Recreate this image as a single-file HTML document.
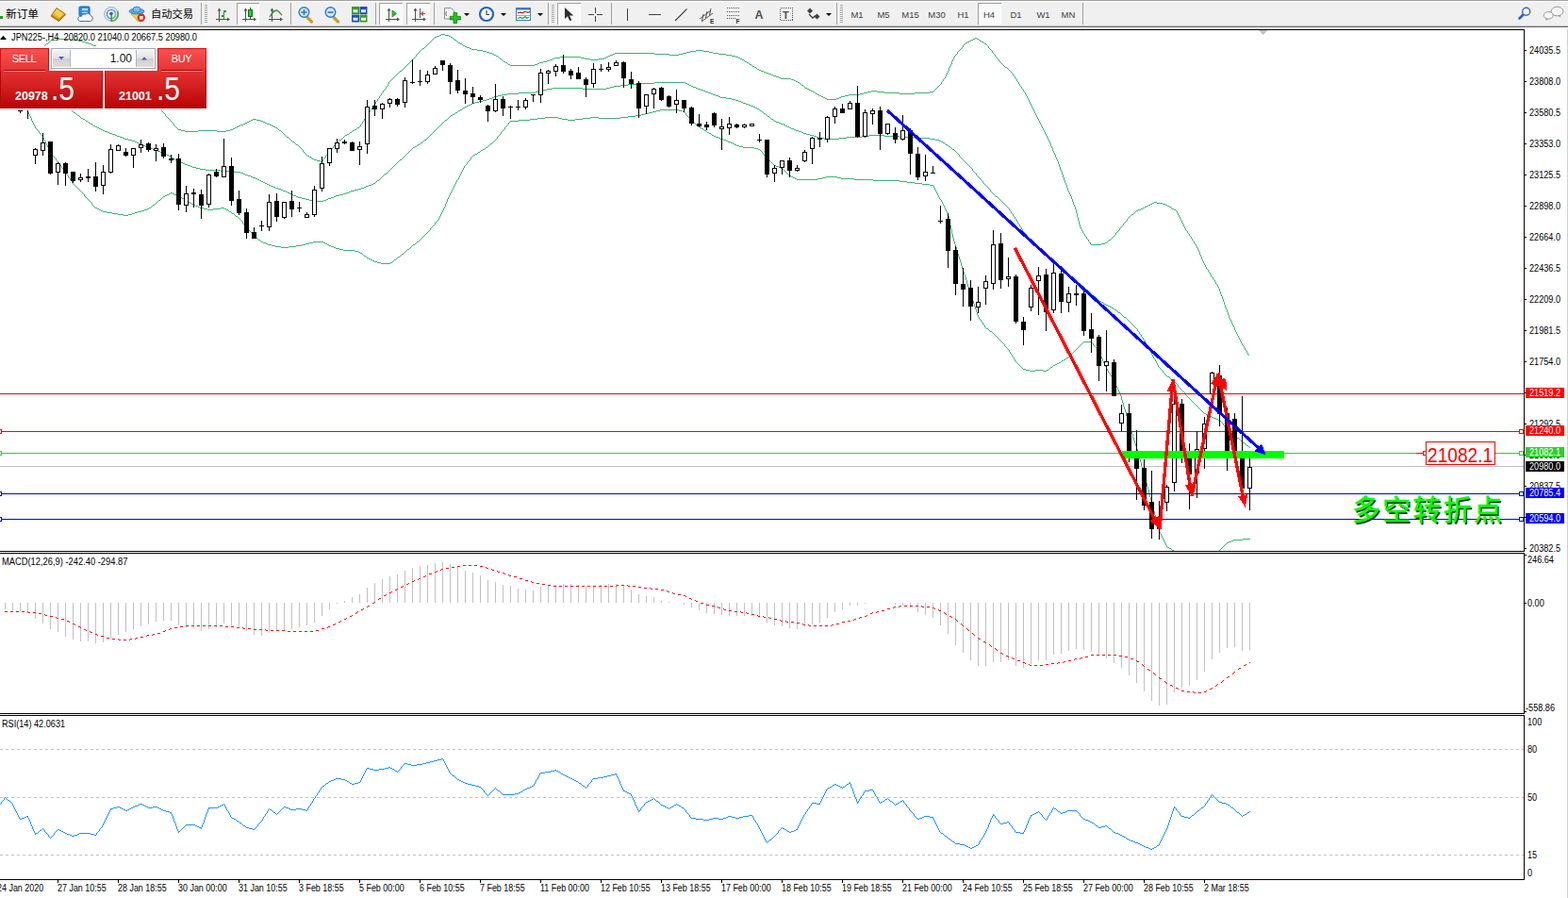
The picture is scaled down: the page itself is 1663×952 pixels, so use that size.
<!DOCTYPE html>
<html><head><meta charset="utf-8"><title>JPN225 H4</title>
<style>
html,body{margin:0;padding:0;background:#fff;}
body{width:1663px;height:952px;overflow:hidden;position:relative;font-family:"Liberation Sans",sans-serif;color:#000;}
.t{position:absolute;font-size:10px;line-height:10px;white-space:nowrap;color:#000;transform-origin:0 50%;}
.ax{transform:scaleX(.914);}
.tm{transform:scaleX(.893);}
.ti{transform:scaleX(.925);}
.mc{transform:scaleX(.934);}
.pl{position:absolute;left:1618px;width:41px;height:11px;color:#fff;font-size:10px;line-height:11px;white-space:nowrap;box-sizing:border-box;padding-left:4px;}
.pl span{display:inline-block;transform-origin:0 50%;transform:scaleX(.914);}
.biglab{position:absolute;left:1514px;top:470.5px;width:80px;height:23px;color:#ff0000;font-size:22.3px;line-height:23px;white-space:nowrap;transform-origin:0 0;transform:scaleX(0.857);}
.tp{position:absolute;}
.red{background:linear-gradient(#e23232 0%,#d62323 35%,#b80404 100%);}

</style></head>
<body>
<svg width="1663" height="952" viewBox="0 0 1663 952" style="position:absolute;left:0;top:0"><defs><clipPath id="cm"><rect x="0" y="32" width="1616" height="552"/></clipPath><clipPath id="c2"><rect x="0" y="587" width="1616" height="169"/></clipPath><clipPath id="c3"><rect x="0" y="759" width="1616" height="173"/></clipPath></defs>
<g clip-path="url(#cm)" shape-rendering="crispEdges">
<path d="M175 121h1v2h-1zM1315 360h1v2h-1zM1106 136h1v2h-1zM1251 230h1v2h-1zM1297 317h1v3h-1zM384 129h1v2h-1zM1298 320h1v3h-1zM1272 267h1v3h-1zM1301 328h1v3h-1zM1279 283h1v2h-1zM390 120h1v2h-1zM1308 345h1v2h-1zM1012 59h1v2h-1zM1076 81h1v2h-1zM43 53h1v2h-1zM1261 248h1v2h-1zM1119 164h1v3h-1zM1264 253h1v2h-1zM411 89h1v2h-1zM152 94h1v2h-1zM1104 132h1v2h-1zM1150 248h1v2h-1zM406 96h1v2h-1zM1289 299h1v2h-1zM1154 254h1v2h-1zM1253 234h1v2h-1zM1293 306h1v3h-1zM1115 155h1v2h-1zM1089 102h1v2h-1zM1296 314h1v3h-1zM1007 70h1v2h-1zM1090 104h1v2h-1zM409 92h1v2h-1zM1309 347h1v3h-1zM1281 286h1v2h-1zM1146 241h1v2h-1zM1187 242h1v2h-1zM1052 54h1v2h-1zM1132 199h1v3h-1zM184 131h1v2h-1zM1078 84h1v2h-1zM1317 364h1v2h-1zM1006 72h1v3h-1zM1191 237h1v2h-1zM1152 251h1v2h-1zM1291 302h1v2h-1zM1156 257h1v2h-1zM1088 100h1v2h-1zM1120 167h1v2h-1zM1004 77h1v2h-1zM1127 185h1v3h-1zM1145 238h1v3h-1zM1130 194h1v2h-1zM1000 84h1v2h-1zM1131 196h1v3h-1zM1319 367h1v2h-1zM1137 211h1v3h-1zM1304 337h1v2h-1zM1011 61h1v2h-1zM348 161h1v2h-1zM1112 148h1v2h-1zM1122 171h1v3h-1zM1143 230h1v4h-1zM1125 180h1v2h-1zM1097 118h1v2h-1zM1126 182h1v3h-1zM1274 272h1v3h-1zM1303 334h1v3h-1zM394 114h1v2h-1zM1310 350h1v2h-1zM404 99h1v2h-1zM1114 152h1v3h-1zM1074 78h1v2h-1zM1263 251h1v2h-1zM1142 226h1v4h-1zM1095 114h1v2h-1zM1002 81h1v2h-1zM388 123h1v2h-1zM998 87h1v2h-1zM1255 238h1v2h-1zM41 56h1v2h-1zM1091 106h1v2h-1zM1021 48h1v2h-1zM353 155h1v2h-1zM157 100h1v2h-1zM1148 245h1v2h-1zM1283 289h1v2h-1zM1055 58h1v2h-1zM1080 87h1v2h-1zM36 64h1v2h-1zM1105 134h1v2h-1zM1108 140h1v2h-1zM32 71h1v2h-1zM1147 243h1v2h-1zM441 58h1v2h-1zM1015 55h1v2h-1zM1107 138h1v2h-1zM1292 304h1v2h-1zM1121 169h1v2h-1zM1099 122h1v2h-1zM1248 224h1v2h-1zM1059 63h1v2h-1zM45 50h1v2h-1zM1320 369h1v2h-1zM1323 374h1v2h-1zM142 82h1v2h-1zM1273 270h1v2h-1zM1305 339h1v2h-1zM35 66h1v2h-1zM1101 126h1v2h-1zM163 107h1v2h-1zM31 73h1v2h-1zM1257 242h1v2h-1zM1322 372h1v2h-1zM1254 236h1v2h-1zM398 108h1v2h-1zM1003 79h1v2h-1zM1311 352h1v2h-1zM1314 358h1v2h-1zM1136 208h1v3h-1zM1139 217h1v2h-1zM1110 144h1v2h-1zM1010 63h1v2h-1zM1295 312h1v2h-1zM1256 240h1v2h-1zM1259 245h1v2h-1zM1117 160h1v2h-1zM342 169h1v2h-1zM1299 323h1v3h-1zM1092 108h1v2h-1zM1124 177h1v3h-1zM1128 188h1v3h-1zM1312 354h1v2h-1zM1284 291h1v2h-1zM1134 204h1v2h-1zM345 165h1v2h-1zM1009 65h1v3h-1zM1081 89h1v2h-1zM1138 214h1v3h-1zM1269 261h1v2h-1zM1266 256h1v2h-1zM1276 277h1v2h-1zM1109 142h1v2h-1zM1294 309h1v3h-1zM1116 157h1v3h-1zM1094 112h1v2h-1zM1123 174h1v3h-1zM1144 234h1v4h-1zM1286 294h1v2h-1zM1250 228h1v2h-1zM402 102h1v2h-1zM1083 92h1v2h-1zM1268 259h1v2h-1zM1300 326h1v2h-1zM1278 281h1v2h-1zM1275 275h1v2h-1zM1307 343h1v2h-1zM1103 130h1v2h-1zM1100 124h1v2h-1zM1288 297h1v2h-1zM1249 226h1v2h-1zM1085 95h1v2h-1zM412 87h1v2h-1zM1306 341h1v2h-1zM1316 362h1v2h-1zM1183 247h1v2h-1zM1141 222h1v4h-1zM1102 128h1v2h-1zM392 117h1v2h-1zM1008 68h1v2h-1zM1129 191h1v3h-1zM1133 202h1v2h-1zM1140 219h1v3h-1zM382 132h1v2h-1zM1271 265h1v2h-1zM1111 146h1v2h-1zM1118 162h1v2h-1zM38 61h1v2h-1zM1093 110h1v2h-1zM1096 116h1v2h-1zM34 68h1v2h-1zM147 88h1v2h-1zM1313 356h1v2h-1zM1135 206h1v2h-1zM1252 232h1v2h-1zM1270 263h1v2h-1zM1195 232h1v2h-1zM1302 331h1v3h-1zM1277 279h1v2h-1zM168 113h1v2h-1zM400 105h1v2h-1zM396 111h1v2h-1zM1005 75h1v2h-1zM1087 98h1v2h-1zM386 126h1v2h-1zM39 59h1v2h-1zM321 159h1v2h-1zM1048 49h1v2h-1zM1113 150h1v2h-1zM1098 120h1v2h-1zM158 102h1v1h-1zM871 102h2v1h-2zM892 102h4v1h-4zM1205 223h2v1h-2zM1247 223h1v1h-1zM115 57h2v1h-2zM442 57h1v1h-1zM522 57h2v1h-2zM650 57h2v1h-2zM694 57h16v1h-16zM720 57h4v1h-4zM762 57h8v1h-8zM1014 57h1v1h-1zM1054 57h1v1h-1zM37 63h1v1h-1zM123 63h1v1h-1zM437 63h1v1h-1zM532 63h1v1h-1zM583 63h3v1h-3zM626 63h9v1h-9zM787 63h2v1h-2zM129 69h1v1h-1zM431 69h1v1h-1zM541 69h26v1h-26zM797 69h1v1h-1zM1064 69h1v1h-1zM1224 214h3v1h-3zM61 41h13v1h-13zM459 41h1v1h-1zM481 41h1v1h-1zM1032 41h2v1h-2zM1036 41h2v1h-2zM120 60h1v1h-1zM440 60h1v1h-1zM528 60h1v1h-1zM594 60h22v1h-22zM643 60h2v1h-2zM780 60h3v1h-3zM1056 60h1v1h-1zM122 62h1v1h-1zM438 62h1v1h-1zM530 62h2v1h-2zM586 62h2v1h-2zM620 62h6v1h-6zM635 62h6v1h-6zM785 62h2v1h-2zM1058 62h1v1h-1zM33 70h1v1h-1zM130 70h1v1h-1zM430 70h1v1h-1zM798 70h2v1h-2zM1065 70h1v1h-1zM54 42h7v1h-7zM74 42h9v1h-9zM458 42h1v1h-1zM482 42h2v1h-2zM1030 42h2v1h-2zM1038 42h1v1h-1zM156 99h1v1h-1zM865 99h2v1h-2zM912 99h4v1h-4zM954 99h16v1h-16zM155 98h1v1h-1zM405 98h1v1h-1zM864 98h1v1h-1zM916 98h4v1h-4zM938 98h16v1h-16zM970 98h16v1h-16zM118 59h2v1h-2zM526 59h2v1h-2zM645 59h2v1h-2zM776 59h4v1h-4zM151 93h1v1h-1zM854 93h2v1h-2zM993 93h1v1h-1zM867 100h2v1h-2zM900 100h12v1h-12zM187 135h1v1h-1zM249 135h2v1h-2zM292 135h2v1h-2zM379 135h2v1h-2zM325 164h1v1h-1zM346 164h1v1h-1zM106 51h1v1h-1zM448 51h2v1h-2zM498 51h2v1h-2zM1019 51h1v1h-1zM1049 51h1v1h-1zM185 133h1v1h-1zM253 133h2v1h-2zM288 133h2v1h-2zM44 52h1v1h-1zM107 52h2v1h-2zM447 52h1v1h-1zM500 52h6v1h-6zM1018 52h1v1h-1zM1050 52h1v1h-1zM196 139h14v1h-14zM230 139h10v1h-10zM298 139h1v1h-1zM373 139h1v1h-1zM47 48h1v1h-1zM99 48h3v1h-3zM452 48h1v1h-1zM491 48h2v1h-2zM1047 48h1v1h-1zM114 56h1v1h-1zM443 56h1v1h-1zM519 56h3v1h-3zM652 56h42v1h-42zM724 56h4v1h-4zM756 56h6v1h-6zM1053 56h1v1h-1zM51 45h1v1h-1zM91 45h3v1h-3zM455 45h1v1h-1zM486 45h2v1h-2zM1024 45h2v1h-2zM1043 45h1v1h-1zM416 83h1v1h-1zM828 83h11v1h-11zM1001 83h1v1h-1zM1077 83h1v1h-1zM52 44h1v1h-1zM87 44h4v1h-4zM456 44h1v1h-1zM485 44h1v1h-1zM1026 44h2v1h-2zM1041 44h2v1h-2zM140 80h1v1h-1zM419 80h1v1h-1zM820 80h3v1h-3zM1075 80h1v1h-1zM180 127h1v1h-1zM266 127h2v1h-2zM272 127h4v1h-4zM40 58h1v1h-1zM117 58h1v1h-1zM524 58h2v1h-2zM647 58h3v1h-3zM710 58h10v1h-10zM770 58h6v1h-6zM1013 58h1v1h-1zM1222 215h2v1h-2zM1227 215h6v1h-6zM145 86h1v1h-1zM413 86h1v1h-1zM844 86h2v1h-2zM999 86h1v1h-1zM1079 86h1v1h-1zM121 61h1v1h-1zM439 61h1v1h-1zM529 61h1v1h-1zM588 61h6v1h-6zM616 61h4v1h-4zM641 61h2v1h-2zM783 61h2v1h-2zM1057 61h1v1h-1zM42 55h1v1h-1zM112 55h2v1h-2zM444 55h1v1h-1zM516 55h3v1h-3zM728 55h4v1h-4zM752 55h4v1h-4zM159 103h1v1h-1zM873 103h2v1h-2zM890 103h2v1h-2zM330 167h1v1h-1zM344 167h1v1h-1zM192 138h4v1h-4zM210 138h20v1h-20zM240 138h4v1h-4zM296 138h2v1h-2zM374 138h2v1h-2zM1168 258h4v1h-4zM1267 258h1v1h-1zM1157 259h11v1h-11zM154 97h1v1h-1zM862 97h2v1h-2zM920 97h4v1h-4zM930 97h8v1h-8zM986 97h4v1h-4zM1086 97h1v1h-1zM463 38h3v1h-3zM476 38h2v1h-2zM179 126h1v1h-1zM268 126h4v1h-4zM177 124h1v1h-1zM128 68h1v1h-1zM432 68h1v1h-1zM539 68h2v1h-2zM567 68h3v1h-3zM795 68h2v1h-2zM1063 68h1v1h-1zM137 77h1v1h-1zM422 77h1v1h-1zM812 77h3v1h-3zM1073 77h1v1h-1zM307 147h1v1h-1zM362 147h1v1h-1zM126 66h1v1h-1zM434 66h1v1h-1zM536 66h2v1h-2zM572 66h4v1h-4zM792 66h2v1h-2zM1061 66h1v1h-1zM1214 219h2v1h-2zM1240 219h2v1h-2zM1192 236h1v1h-1zM46 49h1v1h-1zM102 49h2v1h-2zM451 49h1v1h-1zM493 49h2v1h-2zM466 37h2v1h-2zM472 37h4v1h-4zM49 46h2v1h-2zM94 46h3v1h-3zM454 46h1v1h-1zM488 46h2v1h-2zM1023 46h1v1h-1zM1044 46h2v1h-2zM169 115h1v1h-1zM300 141h1v1h-1zM370 141h1v1h-1zM125 65h1v1h-1zM435 65h1v1h-1zM534 65h2v1h-2zM576 65h4v1h-4zM790 65h2v1h-2zM1060 65h1v1h-1zM110 54h2v1h-2zM445 54h1v1h-1zM512 54h4v1h-4zM732 54h6v1h-6zM746 54h6v1h-6zM1016 54h1v1h-1zM255 132h3v1h-3zM286 132h2v1h-2zM150 92h1v1h-1zM853 92h1v1h-1zM994 92h1v1h-1zM417 82h1v1h-1zM826 82h2v1h-2zM132 72h1v1h-1zM428 72h1v1h-1zM802 72h1v1h-1zM1068 72h1v1h-1zM139 79h1v1h-1zM420 79h1v1h-1zM818 79h2v1h-2zM389 122h1v1h-1zM161 105h1v1h-1zM877 105h10v1h-10zM134 74h1v1h-1zM426 74h1v1h-1zM805 74h2v1h-2zM1070 74h1v1h-1zM188 136h1v1h-1zM247 136h2v1h-2zM294 136h1v1h-1zM378 136h1v1h-1zM189 137h3v1h-3zM244 137h3v1h-3zM295 137h1v1h-1zM376 137h2v1h-2zM48 47h1v1h-1zM97 47h2v1h-2zM453 47h1v1h-1zM490 47h1v1h-1zM1022 47h1v1h-1zM1046 47h1v1h-1zM109 53h1v1h-1zM446 53h1v1h-1zM506 53h6v1h-6zM738 53h8v1h-8zM1017 53h1v1h-1zM1051 53h1v1h-1zM153 96h1v1h-1zM860 96h2v1h-2zM924 96h6v1h-6zM990 96h1v1h-1zM349 160h1v1h-1zM408 94h1v1h-1zM856 94h2v1h-2zM992 94h1v1h-1zM1084 94h1v1h-1zM407 95h1v1h-1zM858 95h2v1h-2zM991 95h1v1h-1zM460 40h1v1h-1zM480 40h1v1h-1zM1034 40h2v1h-2zM124 64h1v1h-1zM436 64h1v1h-1zM533 64h1v1h-1zM580 64h3v1h-3zM789 64h1v1h-1zM181 128h1v1h-1zM264 128h2v1h-2zM276 128h3v1h-3zM385 128h1v1h-1zM461 39h2v1h-2zM478 39h2v1h-2zM127 67h1v1h-1zM433 67h1v1h-1zM538 67h1v1h-1zM570 67h2v1h-2zM794 67h1v1h-1zM1062 67h1v1h-1zM144 85h1v1h-1zM414 85h1v1h-1zM842 85h2v1h-2zM309 149h1v1h-1zM359 149h1v1h-1zM1172 257h2v1h-2zM328 166h2v1h-2zM104 50h2v1h-2zM450 50h1v1h-1zM495 50h3v1h-3zM1020 50h1v1h-1zM149 91h1v1h-1zM410 91h1v1h-1zM852 91h1v1h-1zM995 91h1v1h-1zM1082 91h1v1h-1zM141 81h1v1h-1zM418 81h1v1h-1zM823 81h3v1h-3zM138 78h1v1h-1zM421 78h1v1h-1zM815 78h3v1h-3zM1185 245h1v1h-1zM1180 251h1v1h-1zM1196 231h1v1h-1zM304 145h2v1h-2zM364 145h1v1h-1zM403 101h1v1h-1zM869 101h2v1h-2zM896 101h4v1h-4zM468 36h4v1h-4zM1207 222h3v1h-3zM1245 222h2v1h-2zM1203 225h1v1h-1zM301 142h1v1h-1zM368 142h2v1h-2zM165 110h1v1h-1zM397 110h1v1h-1zM312 151h1v1h-1zM357 151h1v1h-1zM313 152h1v1h-1zM356 152h1v1h-1zM183 130h1v1h-1zM260 130h2v1h-2zM281 130h2v1h-2zM1280 285h1v1h-1zM182 129h1v1h-1zM262 129h2v1h-2zM279 129h2v1h-2zM1175 255h1v1h-1zM1265 255h1v1h-1zM146 87h1v1h-1zM846 87h2v1h-2zM143 84h1v1h-1zM415 84h1v1h-1zM839 84h3v1h-3zM308 148h1v1h-1zM360 148h2v1h-2zM186 134h1v1h-1zM251 134h2v1h-2zM290 134h2v1h-2zM381 134h1v1h-1zM848 88h1v1h-1zM1216 218h2v1h-2zM1238 218h2v1h-2zM258 131h2v1h-2zM283 131h3v1h-3zM383 131h1v1h-1zM303 144h1v1h-1zM365 144h1v1h-1zM314 153h2v1h-2zM355 153h1v1h-1zM1212 220h2v1h-2zM1242 220h1v1h-1zM174 120h1v1h-1zM1210 221h2v1h-2zM1243 221h2v1h-2zM399 107h1v1h-1zM133 73h1v1h-1zM427 73h1v1h-1zM803 73h2v1h-2zM1069 73h1v1h-1zM131 71h1v1h-1zM429 71h1v1h-1zM800 71h2v1h-2zM1066 71h2v1h-2zM53 43h1v1h-1zM83 43h4v1h-4zM457 43h1v1h-1zM484 43h1v1h-1zM1028 43h2v1h-2zM1039 43h2v1h-2zM1282 288h1v1h-1zM1184 246h1v1h-1zM1204 224h1v1h-1zM160 104h1v1h-1zM401 104h1v1h-1zM875 104h2v1h-2zM887 104h3v1h-3zM1179 252h1v1h-1zM1218 217h2v1h-2zM1236 217h2v1h-2zM148 90h1v1h-1zM850 90h2v1h-2zM996 90h1v1h-1zM170 116h1v1h-1zM393 116h1v1h-1zM176 123h1v1h-1zM336 170h4v1h-4zM30 75h1v1h-1zM135 75h1v1h-1zM424 75h2v1h-2zM807 75h3v1h-3zM1071 75h1v1h-1zM136 76h1v1h-1zM423 76h1v1h-1zM810 76h2v1h-2zM1072 76h1v1h-1zM849 89h1v1h-1zM997 89h1v1h-1zM178 125h1v1h-1zM387 125h1v1h-1zM1197 230h1v1h-1zM1153 253h1v1h-1zM1178 253h1v1h-1zM299 140h1v1h-1zM371 140h2v1h-2zM1318 366h1v1h-1zM1321 371h1v1h-1zM306 146h1v1h-1zM363 146h1v1h-1zM1188 241h1v1h-1zM316 154h1v1h-1zM354 154h1v1h-1zM302 143h1v1h-1zM366 143h2v1h-2zM340 171h2v1h-2zM326 165h2v1h-2zM1190 239h1v1h-1zM1202 226h1v1h-1zM1220 216h2v1h-2zM1233 216h3v1h-3zM1176 254h2v1h-2zM317 155h1v1h-1zM318 156h1v1h-1zM1200 227h2v1h-2zM324 163h1v1h-1zM347 163h1v1h-1zM319 157h1v1h-1zM352 157h1v1h-1zM320 158h1v1h-1zM351 158h1v1h-1zM1149 247h1v1h-1zM1260 247h1v1h-1zM1155 256h1v1h-1zM1174 256h1v1h-1zM1194 234h1v1h-1zM310 150h2v1h-2zM358 150h1v1h-1zM322 161h1v1h-1zM1189 240h1v1h-1zM164 109h1v1h-1zM173 119h1v1h-1zM391 119h1v1h-1zM162 106h1v1h-1zM1324 376h1v1h-1zM333 169h3v1h-3zM1182 249h1v1h-1zM1198 229h1v1h-1zM1193 235h1v1h-1zM1287 296h1v1h-1zM166 111h1v1h-1zM167 112h1v1h-1zM331 168h2v1h-2zM343 168h1v1h-1zM350 159h1v1h-1zM1285 293h1v1h-1zM323 162h1v1h-1zM1151 250h1v1h-1zM1181 250h1v1h-1zM1262 250h1v1h-1zM1186 244h1v1h-1zM1258 244h1v1h-1zM1290 301h1v1h-1zM395 113h1v1h-1zM171 117h1v1h-1zM172 118h1v1h-1zM1199 228h1v1h-1z" fill="#3cb371"/>
<path d="M1297 449h1v2h-1zM1072 224h1v2h-1zM1083 241h1v2h-1zM1222 376h1v2h-1zM1223 378h1v2h-1zM1226 383h1v2h-1zM1215 363h1v2h-1zM1081 238h1v2h-1zM1084 243h1v2h-1zM1221 374h1v2h-1zM1017 164h1v2h-1zM1042 192h1v2h-1zM1070 221h1v2h-1zM1089 249h1v2h-1zM1225 381h1v2h-1zM1217 367h1v2h-1zM1257 417h1v2h-1zM1227 385h1v2h-1zM1249 408h1v2h-1zM1050 201h1v2h-1zM1074 227h1v2h-1zM1206 349h1v2h-1zM1228 387h1v2h-1zM1076 230h1v2h-1zM1079 235h1v2h-1zM1216 365h1v2h-1zM1220 372h1v2h-1zM1208 352h1v2h-1zM1031 179h1v2h-1zM1233 393h1v2h-1zM1078 233h1v2h-1zM1218 369h1v2h-1zM1210 355h1v2h-1zM1035 184h1v2h-1zM1212 358h1v2h-1zM1214 361h1v2h-1zM154 155h2v1h-2zM440 155h2v1h-2zM1006 155h2v1h-2zM332 213h11v1h-11zM1062 213h1v1h-1zM263 186h3v1h-3zM406 186h1v1h-1zM1036 186h1v1h-1zM136 148h4v1h-4zM450 148h2v1h-2zM992 148h4v1h-4zM114 140h2v1h-2zM459 140h1v1h-1zM850 140h2v1h-2zM1298 451h1v1h-1zM46 90h1v1h-1zM658 90h8v1h-8zM731 90h2v1h-2zM124 144h3v1h-3zM455 144h1v1h-1zM863 144h3v1h-3zM914 144h8v1h-8zM938 144h16v1h-16zM49 93h1v1h-1zM586 93h32v1h-32zM643 93h4v1h-4zM738 93h2v1h-2zM56 99h1v1h-1zM538 99h12v1h-12zM754 99h2v1h-2zM91 128h2v1h-2zM471 128h1v1h-1zM821 128h2v1h-2zM55 98h1v1h-1zM550 98h18v1h-18zM751 98h3v1h-3zM53 97h2v1h-2zM568 97h4v1h-4zM748 97h3v1h-3zM43 88h1v1h-1zM678 88h16v1h-16zM727 88h2v1h-2zM172 162h3v1h-3zM432 162h1v1h-1zM1015 162h1v1h-1zM16 70h1v1h-1zM1198 341h1v1h-1zM58 101h1v1h-1zM528 101h4v1h-4zM759 101h3v1h-3zM17 71h2v1h-2zM1186 331h2v1h-2zM1160 314h2v1h-2zM292 199h3v1h-3zM383 199h3v1h-3zM1048 199h1v1h-1zM324 211h4v1h-4zM346 211h2v1h-2zM1060 211h1v1h-1zM127 145h3v1h-3zM454 145h1v1h-1zM866 145h2v1h-2zM898 145h16v1h-16zM954 145h16v1h-16zM132 147h4v1h-4zM452 147h1v1h-1zM874 147h16v1h-16zM986 147h6v1h-6zM1150 305h1v1h-1zM66 108h1v1h-1zM504 108h4v1h-4zM786 108h2v1h-2zM62 105h2v1h-2zM516 105h3v1h-3zM776 105h4v1h-4zM208 178h4v1h-4zM415 178h1v1h-1zM1030 178h1v1h-1zM76 117h1v1h-1zM486 117h2v1h-2zM806 117h2v1h-2zM42 87h1v1h-1zM694 87h33v1h-33zM1064 215h1v1h-1zM1263 424h1v1h-1zM246 182h9v1h-9zM411 182h1v1h-1zM1033 182h1v1h-1zM287 197h3v1h-3zM388 197h3v1h-3zM1046 197h1v1h-1zM38 84h2v1h-2zM30 79h2v1h-2zM234 181h12v1h-12zM412 181h1v1h-1zM1032 181h1v1h-1zM50 94h1v1h-1zM580 94h6v1h-6zM618 94h25v1h-25zM740 94h3v1h-3zM1182 328h2v1h-2zM295 200h3v1h-3zM380 200h3v1h-3zM1049 200h1v1h-1zM11 67h2v1h-2zM13 68h1v1h-1zM1175 324h2v1h-2zM5 63h1v1h-1zM1104 265h2v1h-2zM67 109h1v1h-1zM501 109h3v1h-3zM788 109h3v1h-3zM196 174h3v1h-3zM419 174h1v1h-1zM1026 174h1v1h-1zM1248 407h1v1h-1zM1287 443h3v1h-3zM268 188h3v1h-3zM404 188h1v1h-1zM1038 188h1v1h-1zM1270 431h1v1h-1zM1281 440h2v1h-2zM1300 453h1v1h-1zM119 142h3v1h-3zM457 142h1v1h-1zM855 142h4v1h-4zM109 138h2v1h-2zM461 138h1v1h-1zM844 138h3v1h-3zM130 146h2v1h-2zM453 146h1v1h-1zM868 146h6v1h-6zM890 146h8v1h-8zM970 146h16v1h-16zM103 135h2v1h-2zM464 135h1v1h-1zM837 135h2v1h-2zM33 81h2v1h-2zM122 143h2v1h-2zM456 143h1v1h-1zM859 143h4v1h-4zM922 143h16v1h-16zM167 160h3v1h-3zM434 160h1v1h-1zM1013 160h1v1h-1zM25 76h2v1h-2zM1177 325h2v1h-2zM1200 343h1v1h-1zM159 157h3v1h-3zM437 157h1v1h-1zM1009 157h1v1h-1zM27 77h2v1h-2zM0 60h1v1h-1zM1111 271h1v1h-1zM184 168h2v1h-2zM426 168h1v1h-1zM1020 168h1v1h-1zM1100 261h1v1h-1zM281 194h2v1h-2zM396 194h2v1h-2zM1043 194h1v1h-1zM305 204h2v1h-2zM367 204h3v1h-3zM1052 204h1v1h-1zM204 177h4v1h-4zM416 177h1v1h-1zM1029 177h1v1h-1zM328 212h4v1h-4zM343 212h3v1h-3zM1061 212h1v1h-1zM145 151h2v1h-2zM446 151h2v1h-2zM1000 151h2v1h-2zM189 171h2v1h-2zM422 171h1v1h-1zM1023 171h1v1h-1zM61 104h1v1h-1zM519 104h3v1h-3zM770 104h6v1h-6zM111 139h3v1h-3zM460 139h1v1h-1zM847 139h3v1h-3zM307 205h2v1h-2zM364 205h3v1h-3zM1053 205h1v1h-1zM1066 217h1v1h-1zM170 161h2v1h-2zM433 161h1v1h-1zM1014 161h1v1h-1zM52 96h1v1h-1zM572 96h4v1h-4zM746 96h2v1h-2zM1067 218h1v1h-1zM1266 427h1v1h-1zM84 123h1v1h-1zM477 123h1v1h-1zM814 123h2v1h-2zM290 198h2v1h-2zM386 198h2v1h-2zM1047 198h1v1h-1zM14 69h2v1h-2zM283 195h2v1h-2zM394 195h2v1h-2zM1044 195h1v1h-1zM218 180h16v1h-16zM413 180h1v1h-1zM1224 380h1v1h-1zM44 89h2v1h-2zM666 89h12v1h-12zM729 89h2v1h-2zM279 193h2v1h-2zM398 193h1v1h-1zM1272 433h1v1h-1zM57 100h1v1h-1zM532 100h6v1h-6zM756 100h3v1h-3zM1273 434h1v1h-1zM86 125h2v1h-2zM475 125h1v1h-1zM817 125h1v1h-1zM300 202h3v1h-3zM372 202h4v1h-4zM1124 283h1v1h-1zM9 66h2v1h-2zM266 187h2v1h-2zM405 187h1v1h-1zM1037 187h1v1h-1zM1113 273h1v1h-1zM1213 360h1v1h-1zM1114 274h1v1h-1zM64 106h1v1h-1zM512 106h4v1h-4zM780 106h3v1h-3zM162 158h2v1h-2zM436 158h1v1h-1zM1010 158h2v1h-2zM78 119h2v1h-2zM483 119h2v1h-2zM809 119h1v1h-1zM194 173h2v1h-2zM420 173h1v1h-1zM1025 173h1v1h-1zM1279 439h2v1h-2zM1194 337h1v1h-1zM101 134h2v1h-2zM465 134h1v1h-1zM835 134h2v1h-2zM32 80h1v1h-1zM156 156h3v1h-3zM438 156h2v1h-2zM1008 156h1v1h-1zM73 114h1v1h-1zM491 114h2v1h-2zM801 114h2v1h-2zM1157 311h1v1h-1zM1168 320h2v1h-2zM175 163h2v1h-2zM431 163h1v1h-1zM1016 163h1v1h-1zM105 136h2v1h-2zM463 136h1v1h-1zM839 136h3v1h-3zM202 176h2v1h-2zM417 176h1v1h-1zM1028 176h1v1h-1zM1252 412h1v1h-1zM1322 472h2v1h-2zM1253 413h1v1h-1zM1275 436h1v1h-1zM19 72h2v1h-2zM1190 334h1v1h-1zM1163 316h1v1h-1zM71 113h2v1h-2zM493 113h2v1h-2zM799 113h2v1h-2zM93 129h1v1h-1zM470 129h1v1h-1zM823 129h3v1h-3zM182 167h2v1h-2zM427 167h1v1h-1zM1019 167h1v1h-1zM1164 317h1v1h-1zM273 190h2v1h-2zM402 190h1v1h-1zM1040 190h1v1h-1zM1244 403h1v1h-1zM1307 459h1v1h-1zM41 86h1v1h-1zM1071 223h1v1h-1zM1185 330h1v1h-1zM47 91h1v1h-1zM651 91h7v1h-7zM733 91h2v1h-2zM1196 339h1v1h-1zM1107 267h1v1h-1zM1197 340h1v1h-1zM1159 313h1v1h-1zM181 166h1v1h-1zM428 166h1v1h-1zM1018 166h1v1h-1zM1302 455h1v1h-1zM1240 400h1v1h-1zM1303 456h1v1h-1zM1314 465h1v1h-1zM1255 415h1v1h-1zM59 102h1v1h-1zM524 102h4v1h-4zM762 102h2v1h-2zM99 133h2v1h-2zM466 133h1v1h-1zM833 133h2v1h-2zM48 92h1v1h-1zM647 92h4v1h-4zM735 92h3v1h-3zM1203 346h1v1h-1zM94 130h2v1h-2zM469 130h1v1h-1zM826 130h2v1h-2zM1173 323h2v1h-2zM1192 336h2v1h-2zM164 159h3v1h-3zM435 159h1v1h-1zM1012 159h1v1h-1zM3 62h2v1h-2zM1166 319h2v1h-2zM60 103h1v1h-1zM522 103h2v1h-2zM764 103h6v1h-6zM149 153h2v1h-2zM443 153h2v1h-2zM1003 153h2v1h-2zM1235 396h1v1h-1zM1246 405h1v1h-1zM116 141h3v1h-3zM458 141h1v1h-1zM852 141h3v1h-3zM1309 461h1v1h-1zM1247 406h1v1h-1zM81 121h1v1h-1zM480 121h2v1h-2zM812 121h1v1h-1zM1310 462h1v1h-1zM1073 226h1v1h-1zM1109 269h1v1h-1zM143 150h2v1h-2zM448 150h1v1h-1zM998 150h2v1h-2zM186 169h1v1h-1zM424 169h2v1h-2zM1021 169h1v1h-1zM1304 457h2v1h-2zM1242 402h2v1h-2zM1205 348h1v1h-1zM298 201h2v1h-2zM376 201h4v1h-4zM151 154h3v1h-3zM442 154h1v1h-1zM1005 154h1v1h-1zM275 191h2v1h-2zM400 191h2v1h-2zM1041 191h1v1h-1zM212 179h6v1h-6zM414 179h1v1h-1zM199 175h3v1h-3zM418 175h1v1h-1zM1027 175h1v1h-1zM107 137h2v1h-2zM462 137h1v1h-1zM842 137h2v1h-2zM1237 398h1v1h-1zM316 209h4v1h-4zM351 209h3v1h-3zM1058 209h1v1h-1zM51 95h1v1h-1zM576 95h4v1h-4zM743 95h3v1h-3zM320 210h4v1h-4zM348 210h3v1h-3zM1059 210h1v1h-1zM314 208h2v1h-2zM354 208h2v1h-2zM1056 208h2v1h-2zM68 110h1v1h-1zM499 110h2v1h-2zM791 110h3v1h-3zM8 65h1v1h-1zM1122 281h1v1h-1zM75 116h1v1h-1zM488 116h2v1h-2zM805 116h1v1h-1zM1171 322h2v1h-2zM1123 282h1v1h-1zM1 61h2v1h-2zM1112 272h1v1h-1zM1219 371h1v1h-1zM277 192h2v1h-2zM399 192h1v1h-1zM1292 445h2v1h-2zM1285 442h2v1h-2zM1277 438h2v1h-2zM1259 420h1v1h-1zM22 74h2v1h-2zM88 126h2v1h-2zM474 126h1v1h-1zM818 126h2v1h-2zM1207 351h1v1h-1zM1085 245h1v1h-1zM1086 246h1v1h-1zM1118 278h1v1h-1zM1128 287h2v1h-2zM1119 279h1v1h-1zM285 196h2v1h-2zM391 196h3v1h-3zM1045 196h1v1h-1zM260 185h3v1h-3zM407 185h1v1h-1zM140 149h3v1h-3zM449 149h1v1h-1zM996 149h2v1h-2zM1299 452h1v1h-1zM1250 410h1v1h-1zM65 107h1v1h-1zM508 107h4v1h-4zM783 107h3v1h-3zM1251 411h1v1h-1zM1199 342h1v1h-1zM271 189h2v1h-2zM403 189h1v1h-1zM1039 189h1v1h-1zM1125 284h1v1h-1zM303 203h2v1h-2zM370 203h2v1h-2zM1051 203h1v1h-1zM147 152h2v1h-2zM445 152h1v1h-1zM1002 152h1v1h-1zM1316 467h1v1h-1zM1306 458h1v1h-1zM96 131h2v1h-2zM468 131h1v1h-1zM828 131h3v1h-3zM258 184h2v1h-2zM408 184h2v1h-2zM1195 338h1v1h-1zM1087 247h1v1h-1zM6 64h2v1h-2zM1088 248h1v1h-1zM1120 280h2v1h-2zM69 111h1v1h-1zM497 111h2v1h-2zM794 111h2v1h-2zM309 206h2v1h-2zM360 206h4v1h-4zM1054 206h1v1h-1zM1301 454h1v1h-1zM1312 464h2v1h-2zM98 132h1v1h-1zM467 132h1v1h-1zM831 132h2v1h-2zM1201 344h1v1h-1zM1202 345h1v1h-1zM70 112h1v1h-1zM495 112h2v1h-2zM796 112h3v1h-3zM187 170h2v1h-2zM423 170h1v1h-1zM1022 170h1v1h-1zM1308 460h1v1h-1zM177 164h2v1h-2zM430 164h1v1h-1zM1090 251h1v1h-1zM255 183h3v1h-3zM410 183h1v1h-1zM1034 183h1v1h-1zM82 122h2v1h-2zM478 122h2v1h-2zM813 122h1v1h-1zM1136 293h1v1h-1zM1204 347h1v1h-1zM77 118h1v1h-1zM485 118h1v1h-1zM808 118h1v1h-1zM1148 303h1v1h-1zM1091 252h1v1h-1zM1132 290h1v1h-1zM1143 299h1v1h-1zM1092 253h1v1h-1zM1324 473h1v1h-1zM1127 286h1v1h-1zM1098 259h1v1h-1zM1116 276h1v1h-1zM74 115h1v1h-1zM490 115h1v1h-1zM803 115h2v1h-2zM1318 469h2v1h-2zM1320 470h1v1h-1zM1065 216h1v1h-1zM1264 425h1v1h-1zM311 207h3v1h-3zM356 207h4v1h-4zM1055 207h1v1h-1zM1075 229h1v1h-1zM1134 292h2v1h-2zM1315 466h1v1h-1zM191 172h3v1h-3zM421 172h1v1h-1zM1024 172h1v1h-1zM1256 416h1v1h-1zM90 127h1v1h-1zM472 127h2v1h-2zM820 127h1v1h-1zM1321 471h1v1h-1zM1311 463h1v1h-1zM179 165h2v1h-2zM429 165h1v1h-1zM1077 232h1v1h-1zM1317 468h1v1h-1zM85 124h1v1h-1zM476 124h1v1h-1zM816 124h1v1h-1zM80 120h1v1h-1zM482 120h1v1h-1zM810 120h2v1h-2zM1138 295h2v1h-2zM1140 296h1v1h-1zM1231 391h1v1h-1zM1232 392h1v1h-1zM1094 255h1v1h-1zM1146 301h1v1h-1zM1290 444h2v1h-2zM1260 421h1v1h-1zM1130 288h1v1h-1zM1141 297h1v1h-1zM1131 289h1v1h-1zM1142 298h1v1h-1zM1245 404h1v1h-1zM1096 257h1v1h-1zM1126 285h1v1h-1zM1097 258h1v1h-1zM1137 294h1v1h-1zM1063 214h1v1h-1zM1262 423h1v1h-1zM37 83h1v1h-1zM1181 327h1v1h-1zM1103 264h1v1h-1zM1133 291h1v1h-1zM1295 447h1v1h-1zM1236 397h1v1h-1zM1254 414h1v1h-1zM1325 474h1v1h-1zM1269 430h1v1h-1zM1110 270h1v1h-1zM1099 260h1v1h-1zM21 73h1v1h-1zM1080 237h1v1h-1zM1152 307h2v1h-2zM1238 399h2v1h-2zM1271 432h1v1h-1zM35 82h2v1h-2zM1149 304h1v1h-1zM1179 326h2v1h-2zM1209 354h1v1h-1zM1229 389h1v1h-1zM1230 390h1v1h-1zM1082 240h1v1h-1zM1144 300h2v1h-2zM1155 309h1v1h-1zM1093 254h1v1h-1zM1156 310h1v1h-1zM1258 419h1v1h-1zM1188 332h1v1h-1zM1189 333h1v1h-1zM1151 306h1v1h-1zM1211 357h1v1h-1zM1162 315h1v1h-1zM1265 426h1v1h-1zM40 85h1v1h-1zM1184 329h1v1h-1zM1106 266h1v1h-1zM1095 256h1v1h-1zM1158 312h1v1h-1zM1283 441h2v1h-2zM1101 262h1v1h-1zM1191 335h1v1h-1zM1102 263h1v1h-1zM1234 395h1v1h-1zM1294 446h1v1h-1zM1068 219h1v1h-1zM1267 428h1v1h-1zM1069 220h1v1h-1zM1268 429h1v1h-1zM24 75h1v1h-1zM1108 268h1v1h-1zM1241 401h1v1h-1zM1274 435h1v1h-1zM1115 275h1v1h-1zM1296 448h1v1h-1zM1147 302h1v1h-1zM1170 321h1v1h-1zM1261 422h1v1h-1zM1276 437h1v1h-1zM29 78h1v1h-1zM1165 318h1v1h-1zM1154 308h1v1h-1zM1117 277h1v1h-1z" fill="#3cb371"/>
<path d="M52 158h1v2h-1zM1163 369h1v2h-1zM1021 285h1v3h-1zM53 160h1v2h-1zM1192 431h1v3h-1zM1167 376h1v2h-1zM1065 365h1v2h-1zM1195 441h1v3h-1zM1000 216h1v2h-1zM41 139h1v2h-1zM1216 512h1v4h-1zM1007 234h1v5h-1zM1209 487h1v3h-1zM1027 304h1v3h-1zM1198 451h1v3h-1zM33 125h1v3h-1zM1030 313h1v3h-1zM1201 460h1v4h-1zM993 203h1v2h-1zM1031 316h1v3h-1zM1184 409h1v2h-1zM1017 272h1v3h-1zM1236 576h1v2h-1zM1165 372h1v2h-1zM51 156h1v2h-1zM1222 534h1v4h-1zM1009 243h1v5h-1zM467 227h1v2h-1zM479 201h1v2h-1zM1173 389h1v2h-1zM1214 504h1v4h-1zM1215 508h1v4h-1zM1217 516h1v3h-1zM1002 220h1v2h-1zM1207 480h1v3h-1zM47 148h1v2h-1zM1037 334h1v2h-1zM1210 490h1v4h-1zM1023 291h1v3h-1zM1026 301h1v3h-1zM466 229h1v2h-1zM1197 448h1v3h-1zM478 203h1v2h-1zM1182 405h1v2h-1zM994 205h1v2h-1zM991 199h1v2h-1zM32 123h1v2h-1zM1029 310h1v3h-1zM1228 557h1v4h-1zM461 236h1v2h-1zM1018 275h1v3h-1zM474 211h1v3h-1zM1189 420h1v4h-1zM1234 572h1v2h-1zM1235 574h1v2h-1zM1221 531h1v3h-1zM1174 391h1v2h-1zM1171 385h1v2h-1zM1032 319h1v3h-1zM45 144h1v2h-1zM1203 467h1v3h-1zM46 146h1v2h-1zM1206 476h1v4h-1zM1036 331h1v3h-1zM9 91h1v2h-1zM1022 288h1v3h-1zM1075 379h1v2h-1zM1226 549h1v4h-1zM20 105h1v2h-1zM1011 252h1v4h-1zM1076 381h1v2h-1zM1014 262h1v3h-1zM487 186h1v2h-1zM1219 523h1v4h-1zM471 219h1v2h-1zM483 193h1v2h-1zM59 168h1v2h-1zM531 140h1v2h-1zM1229 561h1v3h-1zM527 145h1v2h-1zM1194 437h1v4h-1zM1169 380h1v3h-1zM1225 546h1v3h-1zM1010 248h1v4h-1zM491 178h1v2h-1zM1218 519h1v4h-1zM1211 494h1v3h-1zM490 180h1v2h-1zM809 162h1v2h-1zM35 130h1v2h-1zM1186 413h1v2h-1zM1019 278h1v4h-1zM1190 424h1v3h-1zM1008 239h1v4h-1zM1168 378h1v2h-1zM24 110h1v2h-1zM97 215h1v2h-1zM1004 224h1v2h-1zM49 152h1v2h-1zM5 86h1v2h-1zM1199 454h1v3h-1zM34 128h1v2h-1zM1202 464h1v3h-1zM1185 411h1v2h-1zM456 242h1v2h-1zM55 163h1v2h-1zM1166 374h1v2h-1zM535 135h1v2h-1zM1177 396h1v2h-1zM1034 325h1v3h-1zM1020 282h1v3h-1zM495 172h1v2h-1zM995 207h1v2h-1zM1183 407h1v2h-1zM72 186h1v2h-1zM1175 393h1v2h-1zM1179 399h1v2h-1zM473 214h1v2h-1zM1033 322h1v3h-1zM486 188h1v2h-1zM1040 339h1v2h-1zM482 195h1v2h-1zM1212 497h1v4h-1zM74 189h1v2h-1zM1028 307h1v3h-1zM37 134h1v2h-1zM1191 427h1v4h-1zM1006 229h1v5h-1zM1003 222h1v2h-1zM499 167h1v2h-1zM1208 483h1v4h-1zM62 172h1v2h-1zM1200 457h1v3h-1zM1231 566h1v2h-1zM36 132h1v2h-1zM470 221h1v2h-1zM727 120h1v2h-1zM1005 226h1v3h-1zM469 223h1v2h-1zM481 197h1v2h-1zM1025 297h1v4h-1zM1196 444h1v4h-1zM1227 553h1v4h-1zM1188 417h1v3h-1zM1015 265h1v4h-1zM1220 527h1v4h-1zM1237 578h1v2h-1zM468 225h1v2h-1zM480 199h1v2h-1zM476 207h1v2h-1zM27 114h1v2h-1zM30 119h1v2h-1zM1205 473h1v3h-1zM48 150h1v2h-1zM1038 336h1v2h-1zM1024 294h1v3h-1zM475 209h1v2h-1zM996 209h1v2h-1zM999 214h1v2h-1zM1070 371h1v2h-1zM731 125h1v2h-1zM76 192h1v2h-1zM29 117h1v2h-1zM1204 470h1v3h-1zM1016 269h1v3h-1zM50 154h1v2h-1zM1224 542h1v4h-1zM257 235h1v2h-1zM998 212h1v2h-1zM16 100h1v2h-1zM263 242h1v2h-1zM990 197h1v2h-1zM1181 403h1v2h-1zM465 231h1v2h-1zM477 205h1v2h-1zM1230 564h1v2h-1zM1233 570h1v2h-1zM539 130h1v2h-1zM1042 342h1v2h-1zM1223 538h1v4h-1zM1170 383h1v2h-1zM492 176h1v2h-1zM472 216h1v3h-1zM1159 364h1v2h-1zM1013 259h1v3h-1zM1232 568h1v2h-1zM1187 415h1v2h-1zM1044 345h1v2h-1zM1193 434h1v3h-1zM65 176h1v2h-1zM68 180h1v2h-1zM267 247h1v2h-1zM1012 256h1v3h-1zM1001 218h1v2h-1zM2 82h1v2h-1zM13 96h1v2h-1zM1213 501h1v3h-1zM89 206h1v2h-1zM489 182h1v2h-1zM31 121h1v2h-1zM1035 328h1v3h-1zM70 183h1v2h-1zM488 184h1v2h-1zM484 191h1v2h-1zM1071 373h1v2h-1zM1180 401h1v2h-1zM992 201h1v2h-1zM1172 387h1v2h-1zM1073 376h1v2h-1zM98 217h1v1h-1zM162 217h2v1h-2zM205 217h2v1h-2zM95 213h1v1h-1zM167 213h1v1h-1zM198 213h2v1h-2zM843 189h2v1h-2zM867 189h5v1h-5zM892 189h14v1h-14zM485 190h1v1h-1zM845 190h22v1h-22zM906 190h20v1h-20zM99 218h1v1h-1zM161 218h1v1h-1zM207 218h3v1h-3zM696 117h4v1h-4zM720 117h4v1h-4zM1140 371h1v1h-1zM1164 371h1v1h-1zM578 124h14v1h-14zM626 124h9v1h-9zM658 124h8v1h-8zM730 124h1v1h-1zM56 165h1v1h-1zM501 165h1v1h-1zM811 165h1v1h-1zM1063 363h1v1h-1zM1148 363h1v1h-1zM1158 363h1v1h-1zM380 267h2v1h-2zM429 267h1v1h-1zM113 225h6v1h-6zM143 225h3v1h-3zM245 225h1v1h-1zM119 226h6v1h-6zM140 226h3v1h-3zM246 226h2v1h-2zM23 109h1v1h-1zM269 250h1v1h-1zM449 250h1v1h-1zM125 227h6v1h-6zM136 227h4v1h-4zM248 227h1v1h-1zM684 120h4v1h-4zM736 130h1v1h-1zM270 251h2v1h-2zM448 251h1v1h-1zM562 126h8v1h-8zM596 126h6v1h-6zM610 126h8v1h-8zM737 131h1v1h-1zM67 179h1v1h-1zM830 179h1v1h-1zM73 188h1v1h-1zM841 188h2v1h-2zM872 188h4v1h-4zM888 188h4v1h-4zM91 209h1v1h-1zM172 209h1v1h-1zM191 209h2v1h-2zM823 176h3v1h-3zM666 123h8v1h-8zM729 123h1v1h-1zM292 261h6v1h-6zM306 261h8v1h-8zM351 261h3v1h-3zM436 261h1v1h-1zM541 128h9v1h-9zM733 128h1v1h-1zM77 194h1v1h-1zM970 194h8v1h-8zM282 258h2v1h-2zM324 258h4v1h-4zM345 258h2v1h-2zM440 258h1v1h-1zM404 279h10v1h-10zM298 262h8v1h-8zM354 262h2v1h-2zM435 262h1v1h-1zM92 210h1v1h-1zM171 210h1v1h-1zM193 210h2v1h-2zM93 211h1v1h-1zM170 211h1v1h-1zM195 211h2v1h-2zM997 211h1v1h-1zM175 207h2v1h-2zM187 207h2v1h-2zM528 144h1v1h-1zM757 144h2v1h-2zM759 145h3v1h-3zM364 265h12v1h-12zM431 265h1v1h-1zM101 220h2v1h-2zM158 220h2v1h-2zM212 220h4v1h-4zM234 220h4v1h-4zM510 159h2v1h-2zM806 159h1v1h-1zM550 127h12v1h-12zM602 127h8v1h-8zM732 127h1v1h-1zM570 125h8v1h-8zM592 125h4v1h-4zM618 125h8v1h-8zM635 125h23v1h-23zM103 221h2v1h-2zM156 221h2v1h-2zM216 221h4v1h-4zM226 221h8v1h-8zM238 221h2v1h-2zM818 172h1v1h-1zM288 260h4v1h-4zM314 260h6v1h-6zM349 260h2v1h-2zM437 260h1v1h-1zM522 151h1v1h-1zM775 151h2v1h-2zM54 162h1v1h-1zM506 162h1v1h-1zM962 193h8v1h-8zM1088 392h4v1h-4zM1098 392h8v1h-8zM1110 392h2v1h-2zM1052 352h1v1h-1zM1126 382h2v1h-2zM451 248h1v1h-1zM389 273h2v1h-2zM421 273h1v1h-1zM69 182h1v1h-1zM833 182h1v1h-1zM25 112h1v1h-1zM279 257h3v1h-3zM328 257h4v1h-4zM343 257h2v1h-2zM441 257h1v1h-1zM39 137h1v1h-1zM534 137h1v1h-1zM746 137h1v1h-1zM284 259h4v1h-4zM320 259h4v1h-4zM347 259h2v1h-2zM438 259h2v1h-2zM40 138h1v1h-1zM533 138h1v1h-1zM747 138h2v1h-2zM277 256h2v1h-2zM332 256h11v1h-11zM442 256h2v1h-2zM28 116h1v1h-1zM700 116h20v1h-20zM832 181h1v1h-1zM43 142h1v1h-1zM530 142h1v1h-1zM754 142h1v1h-1zM526 147h1v1h-1zM764 147h3v1h-3zM1135 376h1v1h-1zM1308 572h10v1h-10zM498 169h1v1h-1zM815 169h1v1h-1zM1046 348h2v1h-2zM131 228h5v1h-5zM249 228h1v1h-1zM1048 349h1v1h-1zM537 133h1v1h-1zM740 133h1v1h-1zM532 139h1v1h-1zM749 139h1v1h-1zM274 254h2v1h-2zM445 254h1v1h-1zM90 208h1v1h-1zM173 208h2v1h-2zM189 208h2v1h-2zM264 244h1v1h-1zM455 244h1v1h-1zM276 255h1v1h-1zM444 255h1v1h-1zM1080 386h1v1h-1zM1119 386h2v1h-2zM1068 369h1v1h-1zM1142 369h1v1h-1zM504 163h2v1h-2zM514 157h1v1h-1zM800 157h4v1h-4zM63 174h1v1h-1zM494 174h1v1h-1zM820 174h1v1h-1zM393 275h2v1h-2zM418 275h2v1h-2zM165 215h1v1h-1zM202 215h1v1h-1zM954 192h8v1h-8zM96 214h1v1h-1zM166 214h1v1h-1zM200 214h2v1h-2zM1054 354h1v1h-1zM71 185h1v1h-1zM836 185h1v1h-1zM1055 355h1v1h-1zM177 206h2v1h-2zM185 206h2v1h-2zM384 269h1v1h-1zM426 269h2v1h-2zM75 191h1v1h-1zM926 191h28v1h-28zM1079 385h1v1h-1zM1121 385h2v1h-2zM1081 387h1v1h-1zM1117 387h2v1h-2zM1049 350h1v1h-1zM1061 361h1v1h-1zM1050 351h2v1h-2zM255 233h1v1h-1zM464 233h1v1h-1zM42 141h1v1h-1zM752 141h2v1h-2zM109 224h4v1h-4zM146 224h4v1h-4zM243 224h2v1h-2zM38 136h1v1h-1zM744 136h2v1h-2zM839 187h2v1h-2zM876 187h12v1h-12zM105 222h2v1h-2zM153 222h3v1h-3zM220 222h6v1h-6zM240 222h2v1h-2zM78 195h1v1h-1zM978 195h8v1h-8zM515 156h2v1h-2zM788 156h12v1h-12zM1045 347h1v1h-1zM250 229h2v1h-2zM382 268h2v1h-2zM428 268h1v1h-1zM88 205h1v1h-1zM179 205h2v1h-2zM183 205h2v1h-2zM1078 384h1v1h-1zM1123 384h2v1h-2zM256 234h1v1h-1zM463 234h1v1h-1zM273 253h1v1h-1zM446 253h1v1h-1zM1238 580h2v1h-2zM1296 580h1v1h-1zM1318 571h8v1h-8zM1243 583h2v1h-2zM1293 583h1v1h-1zM1085 391h3v1h-3zM1112 391h1v1h-1zM1092 393h6v1h-6zM1106 393h4v1h-4zM94 212h1v1h-1zM168 212h2v1h-2zM197 212h1v1h-1zM11 94h1v1h-1zM1077 383h1v1h-1zM1125 383h1v1h-1zM272 252h1v1h-1zM447 252h1v1h-1zM22 108h1v1h-1zM1300 576h1v1h-1zM268 249h1v1h-1zM450 249h1v1h-1zM525 148h1v1h-1zM767 148h3v1h-3zM502 164h2v1h-2zM810 164h1v1h-1zM1134 377h1v1h-1zM265 245h1v1h-1zM454 245h1v1h-1zM692 118h4v1h-4zM724 118h2v1h-2zM1062 362h1v1h-1zM1149 362h9v1h-9zM107 223h2v1h-2zM150 223h3v1h-3zM242 223h1v1h-1zM1069 370h1v1h-1zM1141 370h1v1h-1zM517 155h1v1h-1zM784 155h4v1h-4zM512 158h2v1h-2zM804 158h2v1h-2zM1240 581h2v1h-2zM1295 581h1v1h-1zM360 264h4v1h-4zM432 264h2v1h-2zM1057 357h1v1h-1zM1 81h1v1h-1zM837 186h2v1h-2zM356 263h4v1h-4zM434 263h1v1h-1zM538 132h1v1h-1zM738 132h2v1h-2zM61 171h1v1h-1zM496 171h1v1h-1zM817 171h1v1h-1zM26 113h1v1h-1zM391 274h2v1h-2zM420 274h1v1h-1zM3 84h1v1h-1zM1059 359h1v1h-1zM520 152h2v1h-2zM777 152h2v1h-2zM1060 360h1v1h-1zM253 231h1v1h-1zM1064 364h1v1h-1zM1147 364h1v1h-1zM254 232h1v1h-1zM1083 389h1v1h-1zM1114 389h2v1h-2zM814 168h1v1h-1zM57 166h1v1h-1zM500 166h1v1h-1zM812 166h1v1h-1zM58 167h1v1h-1zM813 167h1v1h-1zM509 160h1v1h-1zM807 160h1v1h-1zM1039 338h1v1h-1zM376 266h4v1h-4zM430 266h1v1h-1zM87 204h1v1h-1zM181 204h2v1h-2zM1242 582h1v1h-1zM1294 582h1v1h-1zM518 154h1v1h-1zM781 154h3v1h-3zM519 153h1v1h-1zM779 153h2v1h-2zM523 150h1v1h-1zM772 150h3v1h-3zM400 278h4v1h-4zM414 278h2v1h-2zM1082 388h1v1h-1zM1116 388h1v1h-1zM1301 575h2v1h-2zM79 196h1v1h-1zM986 196h4v1h-4zM100 219h1v1h-1zM160 219h1v1h-1zM210 219h2v1h-2zM259 238h1v1h-1zM460 238h1v1h-1zM507 161h2v1h-2zM808 161h1v1h-1zM395 276h2v1h-2zM417 276h1v1h-1zM1131 379h2v1h-2zM164 216h1v1h-1zM203 216h2v1h-2zM7 89h1v1h-1zM8 90h1v1h-1zM1074 378h1v1h-1zM1133 378h1v1h-1zM688 119h4v1h-4zM726 119h1v1h-1zM258 237h1v1h-1zM674 122h6v1h-6zM728 122h1v1h-1zM1139 372h1v1h-1zM1146 365h1v1h-1zM1084 390h1v1h-1zM1113 390h1v1h-1zM1066 367h1v1h-1zM1144 367h1v1h-1zM1161 367h1v1h-1zM260 239h1v1h-1zM459 239h1v1h-1zM252 230h1v1h-1zM831 180h1v1h-1zM524 149h1v1h-1zM770 149h2v1h-2zM12 95h1v1h-1zM1297 579h1v1h-1zM397 277h3v1h-3zM416 277h1v1h-1zM819 173h1v1h-1zM680 121h4v1h-4zM386 271h2v1h-2zM424 271h1v1h-1zM1306 573h2v1h-2zM1176 395h1v1h-1zM66 178h1v1h-1zM828 178h2v1h-2zM64 175h1v1h-1zM493 175h1v1h-1zM821 175h2v1h-2zM6 88h1v1h-1zM82 199h1v1h-1zM1299 577h1v1h-1zM83 200h1v1h-1zM60 170h1v1h-1zM497 170h1v1h-1zM816 170h1v1h-1zM262 241h1v1h-1zM457 241h1v1h-1zM1072 375h1v1h-1zM1136 375h1v1h-1zM1178 398h1v1h-1zM452 247h1v1h-1zM85 202h1v1h-1zM1303 574h3v1h-3zM388 272h1v1h-1zM422 272h2v1h-2zM0 80h1v1h-1zM10 93h1v1h-1zM750 140h2v1h-2zM1145 366h1v1h-1zM1160 366h1v1h-1zM536 134h1v1h-1zM741 134h1v1h-1zM1298 578h1v1h-1zM1138 373h1v1h-1zM1128 381h2v1h-2zM385 270h1v1h-1zM425 270h1v1h-1zM826 177h2v1h-2zM1067 368h1v1h-1zM1143 368h1v1h-1zM1162 368h1v1h-1zM762 146h2v1h-2zM80 197h1v1h-1zM44 143h1v1h-1zM529 143h1v1h-1zM755 143h2v1h-2zM81 198h1v1h-1zM4 85h1v1h-1zM14 98h1v1h-1zM15 99h1v1h-1zM261 240h1v1h-1zM458 240h1v1h-1zM1041 341h1v1h-1zM540 129h1v1h-1zM734 129h2v1h-2zM266 246h1v1h-1zM453 246h1v1h-1zM17 102h1v1h-1zM1137 374h1v1h-1zM1053 353h1v1h-1zM1043 344h1v1h-1zM834 183h1v1h-1zM835 184h1v1h-1zM18 103h1v1h-1zM19 104h1v1h-1zM742 135h2v1h-2zM1056 356h1v1h-1zM84 201h1v1h-1zM1130 380h1v1h-1zM21 107h1v1h-1zM462 235h1v1h-1zM1058 358h1v1h-1zM86 203h1v1h-1z" fill="#3cb371"/>
<rect x="0" y="417" width="1616" height="1" fill="#ff0000"/>
<rect x="0" y="457" width="1616" height="1" fill="#ff0000"/>
<rect x="0" y="480" width="1616" height="1" fill="#32cd32"/>
<rect x="0" y="494" width="1616" height="1" fill="#c0c0c0"/>
<rect x="0" y="523" width="1616" height="1" fill="#0000ff"/>
<rect x="0" y="550" width="1616" height="1" fill="#0000ff"/>
<rect x="21" y="100" width="1" height="20" fill="#000"/>
<rect x="19" y="117" width="5" height="1" fill="#000"/>
<rect x="29" y="100" width="1" height="26" fill="#000"/>
<rect x="27" y="105" width="5" height="9" fill="#000"/>
<rect x="37" y="157" width="1" height="17" fill="#000"/>
<rect x="35" y="158" width="5" height="7" fill="#000"/>
<rect x="36" y="159" width="3" height="5" fill="#fff"/>
<rect x="45" y="141" width="1" height="24" fill="#000"/>
<rect x="43" y="151" width="5" height="9" fill="#000"/>
<rect x="44" y="152" width="3" height="7" fill="#fff"/>
<rect x="53" y="150" width="1" height="35" fill="#000"/>
<rect x="51" y="150" width="5" height="34" fill="#000"/>
<rect x="61" y="172" width="1" height="24" fill="#000"/>
<rect x="59" y="173" width="5" height="10" fill="#000"/>
<rect x="60" y="174" width="3" height="8" fill="#fff"/>
<rect x="69" y="172" width="1" height="25" fill="#000"/>
<rect x="67" y="173" width="5" height="11" fill="#000"/>
<rect x="77" y="182" width="1" height="12" fill="#000"/>
<rect x="75" y="182" width="5" height="10" fill="#000"/>
<rect x="85" y="184" width="1" height="9" fill="#000"/>
<rect x="83" y="188" width="5" height="3" fill="#000"/>
<rect x="84" y="189" width="3" height="1" fill="#fff"/>
<rect x="93" y="179" width="1" height="14" fill="#000"/>
<rect x="91" y="187" width="5" height="2" fill="#000"/>
<rect x="101" y="172" width="1" height="31" fill="#000"/>
<rect x="99" y="187" width="5" height="11" fill="#000"/>
<rect x="109" y="175" width="1" height="31" fill="#000"/>
<rect x="107" y="182" width="5" height="15" fill="#000"/>
<rect x="108" y="183" width="3" height="13" fill="#fff"/>
<rect x="117" y="153" width="1" height="31" fill="#000"/>
<rect x="115" y="158" width="5" height="25" fill="#000"/>
<rect x="116" y="159" width="3" height="23" fill="#fff"/>
<rect x="125" y="153" width="1" height="7" fill="#000"/>
<rect x="123" y="154" width="5" height="6" fill="#000"/>
<rect x="124" y="155" width="3" height="4" fill="#fff"/>
<rect x="133" y="157" width="1" height="9" fill="#000"/>
<rect x="131" y="161" width="5" height="4" fill="#000"/>
<rect x="141" y="157" width="1" height="21" fill="#000"/>
<rect x="139" y="157" width="5" height="8" fill="#000"/>
<rect x="140" y="158" width="3" height="6" fill="#fff"/>
<rect x="149" y="148" width="1" height="14" fill="#000"/>
<rect x="147" y="153" width="5" height="4" fill="#000"/>
<rect x="148" y="154" width="3" height="2" fill="#fff"/>
<rect x="157" y="151" width="1" height="10" fill="#000"/>
<rect x="155" y="152" width="5" height="7" fill="#000"/>
<rect x="165" y="153" width="1" height="18" fill="#000"/>
<rect x="163" y="157" width="5" height="3" fill="#000"/>
<rect x="164" y="158" width="3" height="1" fill="#fff"/>
<rect x="173" y="152" width="1" height="16" fill="#000"/>
<rect x="171" y="156" width="5" height="10" fill="#000"/>
<rect x="181" y="164" width="1" height="9" fill="#000"/>
<rect x="179" y="168" width="5" height="2" fill="#000"/>
<rect x="189" y="163" width="1" height="60" fill="#000"/>
<rect x="187" y="168" width="5" height="49" fill="#000"/>
<rect x="197" y="197" width="1" height="28" fill="#000"/>
<rect x="195" y="205" width="5" height="13" fill="#000"/>
<rect x="196" y="206" width="3" height="11" fill="#fff"/>
<rect x="205" y="200" width="1" height="20" fill="#000"/>
<rect x="203" y="204" width="5" height="2" fill="#000"/>
<rect x="213" y="201" width="1" height="31" fill="#000"/>
<rect x="211" y="206" width="5" height="12" fill="#000"/>
<rect x="221" y="184" width="1" height="36" fill="#000"/>
<rect x="219" y="185" width="5" height="32" fill="#000"/>
<rect x="220" y="186" width="3" height="30" fill="#fff"/>
<rect x="229" y="179" width="1" height="9" fill="#000"/>
<rect x="227" y="182" width="5" height="5" fill="#000"/>
<rect x="237" y="147" width="1" height="41" fill="#000"/>
<rect x="235" y="176" width="5" height="12" fill="#000"/>
<rect x="236" y="177" width="3" height="10" fill="#fff"/>
<rect x="245" y="167" width="1" height="51" fill="#000"/>
<rect x="243" y="176" width="5" height="37" fill="#000"/>
<rect x="253" y="202" width="1" height="26" fill="#000"/>
<rect x="251" y="211" width="5" height="15" fill="#000"/>
<rect x="261" y="221" width="1" height="32" fill="#000"/>
<rect x="259" y="225" width="5" height="22" fill="#000"/>
<rect x="269" y="241" width="1" height="12" fill="#000"/>
<rect x="267" y="246" width="5" height="7" fill="#000"/>
<rect x="277" y="234" width="1" height="11" fill="#000"/>
<rect x="275" y="239" width="5" height="1" fill="#000"/>
<rect x="285" y="206" width="1" height="39" fill="#000"/>
<rect x="283" y="214" width="5" height="27" fill="#000"/>
<rect x="284" y="215" width="3" height="25" fill="#fff"/>
<rect x="293" y="205" width="1" height="30" fill="#000"/>
<rect x="291" y="213" width="5" height="17" fill="#000"/>
<rect x="301" y="214" width="1" height="18" fill="#000"/>
<rect x="299" y="214" width="5" height="17" fill="#000"/>
<rect x="300" y="215" width="3" height="15" fill="#fff"/>
<rect x="309" y="202" width="1" height="28" fill="#000"/>
<rect x="307" y="213" width="5" height="9" fill="#000"/>
<rect x="317" y="214" width="1" height="11" fill="#000"/>
<rect x="315" y="220" width="5" height="1" fill="#000"/>
<rect x="325" y="225" width="1" height="6" fill="#000"/>
<rect x="323" y="227" width="5" height="4" fill="#000"/>
<rect x="324" y="228" width="3" height="2" fill="#fff"/>
<rect x="333" y="197" width="1" height="33" fill="#000"/>
<rect x="331" y="201" width="5" height="27" fill="#000"/>
<rect x="332" y="202" width="3" height="25" fill="#fff"/>
<rect x="341" y="166" width="1" height="37" fill="#000"/>
<rect x="339" y="173" width="5" height="27" fill="#000"/>
<rect x="340" y="174" width="3" height="25" fill="#fff"/>
<rect x="349" y="157" width="1" height="19" fill="#000"/>
<rect x="347" y="157" width="5" height="16" fill="#000"/>
<rect x="348" y="158" width="3" height="14" fill="#fff"/>
<rect x="357" y="147" width="1" height="15" fill="#000"/>
<rect x="355" y="151" width="5" height="7" fill="#000"/>
<rect x="356" y="152" width="3" height="5" fill="#fff"/>
<rect x="365" y="148" width="1" height="5" fill="#000"/>
<rect x="363" y="150" width="5" height="2" fill="#000"/>
<rect x="373" y="150" width="1" height="10" fill="#000"/>
<rect x="371" y="151" width="5" height="9" fill="#000"/>
<rect x="381" y="150" width="1" height="25" fill="#000"/>
<rect x="379" y="155" width="5" height="4" fill="#000"/>
<rect x="380" y="156" width="3" height="2" fill="#fff"/>
<rect x="389" y="106" width="1" height="57" fill="#000"/>
<rect x="387" y="113" width="5" height="40" fill="#000"/>
<rect x="388" y="114" width="3" height="38" fill="#fff"/>
<rect x="397" y="106" width="1" height="17" fill="#000"/>
<rect x="395" y="112" width="5" height="4" fill="#000"/>
<rect x="405" y="109" width="1" height="17" fill="#000"/>
<rect x="403" y="110" width="5" height="6" fill="#000"/>
<rect x="404" y="111" width="3" height="4" fill="#fff"/>
<rect x="413" y="104" width="1" height="10" fill="#000"/>
<rect x="411" y="105" width="5" height="5" fill="#000"/>
<rect x="412" y="106" width="3" height="3" fill="#fff"/>
<rect x="421" y="104" width="1" height="9" fill="#000"/>
<rect x="419" y="105" width="5" height="6" fill="#000"/>
<rect x="429" y="82" width="1" height="32" fill="#000"/>
<rect x="427" y="85" width="5" height="24" fill="#000"/>
<rect x="428" y="86" width="3" height="22" fill="#fff"/>
<rect x="437" y="63" width="1" height="26" fill="#000"/>
<rect x="435" y="87" width="5" height="1" fill="#000"/>
<rect x="445" y="74" width="1" height="17" fill="#000"/>
<rect x="443" y="86" width="5" height="1" fill="#000"/>
<rect x="453" y="75" width="1" height="14" fill="#000"/>
<rect x="451" y="79" width="5" height="8" fill="#000"/>
<rect x="452" y="80" width="3" height="6" fill="#fff"/>
<rect x="461" y="70" width="1" height="9" fill="#000"/>
<rect x="459" y="72" width="5" height="7" fill="#000"/>
<rect x="460" y="73" width="3" height="5" fill="#fff"/>
<rect x="469" y="64" width="1" height="11" fill="#000"/>
<rect x="467" y="64" width="5" height="5" fill="#000"/>
<rect x="477" y="67" width="1" height="33" fill="#000"/>
<rect x="475" y="69" width="5" height="18" fill="#000"/>
<rect x="485" y="74" width="1" height="25" fill="#000"/>
<rect x="483" y="85" width="5" height="11" fill="#000"/>
<rect x="493" y="83" width="1" height="27" fill="#000"/>
<rect x="491" y="96" width="5" height="4" fill="#000"/>
<rect x="501" y="92" width="1" height="18" fill="#000"/>
<rect x="499" y="99" width="5" height="4" fill="#000"/>
<rect x="509" y="101" width="1" height="8" fill="#000"/>
<rect x="507" y="103" width="5" height="3" fill="#000"/>
<rect x="517" y="111" width="1" height="18" fill="#000"/>
<rect x="515" y="112" width="5" height="6" fill="#000"/>
<rect x="525" y="89" width="1" height="30" fill="#000"/>
<rect x="523" y="105" width="5" height="13" fill="#000"/>
<rect x="524" y="106" width="3" height="11" fill="#fff"/>
<rect x="533" y="102" width="1" height="21" fill="#000"/>
<rect x="531" y="105" width="5" height="10" fill="#000"/>
<rect x="541" y="112" width="1" height="14" fill="#000"/>
<rect x="539" y="113" width="5" height="1" fill="#000"/>
<rect x="549" y="106" width="1" height="11" fill="#000"/>
<rect x="547" y="113" width="5" height="1" fill="#000"/>
<rect x="557" y="104" width="1" height="12" fill="#000"/>
<rect x="555" y="106" width="5" height="8" fill="#000"/>
<rect x="556" y="107" width="3" height="6" fill="#fff"/>
<rect x="565" y="100" width="1" height="8" fill="#000"/>
<rect x="563" y="100" width="5" height="1" fill="#000"/>
<rect x="573" y="73" width="1" height="36" fill="#000"/>
<rect x="571" y="77" width="5" height="24" fill="#000"/>
<rect x="572" y="78" width="3" height="22" fill="#fff"/>
<rect x="581" y="74" width="1" height="15" fill="#000"/>
<rect x="579" y="75" width="5" height="3" fill="#000"/>
<rect x="580" y="76" width="3" height="1" fill="#fff"/>
<rect x="589" y="68" width="1" height="13" fill="#000"/>
<rect x="587" y="70" width="5" height="6" fill="#000"/>
<rect x="588" y="71" width="3" height="4" fill="#fff"/>
<rect x="597" y="58" width="1" height="20" fill="#000"/>
<rect x="595" y="69" width="5" height="7" fill="#000"/>
<rect x="605" y="73" width="1" height="11" fill="#000"/>
<rect x="603" y="75" width="5" height="5" fill="#000"/>
<rect x="613" y="71" width="1" height="13" fill="#000"/>
<rect x="611" y="77" width="5" height="7" fill="#000"/>
<rect x="621" y="82" width="1" height="21" fill="#000"/>
<rect x="619" y="84" width="5" height="6" fill="#000"/>
<rect x="629" y="67" width="1" height="26" fill="#000"/>
<rect x="627" y="73" width="5" height="16" fill="#000"/>
<rect x="628" y="74" width="3" height="14" fill="#fff"/>
<rect x="637" y="68" width="1" height="8" fill="#000"/>
<rect x="635" y="73" width="5" height="1" fill="#000"/>
<rect x="645" y="66" width="1" height="10" fill="#000"/>
<rect x="643" y="71" width="5" height="3" fill="#000"/>
<rect x="644" y="72" width="3" height="1" fill="#fff"/>
<rect x="653" y="64" width="1" height="6" fill="#000"/>
<rect x="651" y="66" width="5" height="4" fill="#000"/>
<rect x="652" y="67" width="3" height="2" fill="#fff"/>
<rect x="661" y="65" width="1" height="28" fill="#000"/>
<rect x="659" y="66" width="5" height="17" fill="#000"/>
<rect x="669" y="76" width="1" height="18" fill="#000"/>
<rect x="667" y="84" width="5" height="5" fill="#000"/>
<rect x="677" y="86" width="1" height="39" fill="#000"/>
<rect x="675" y="88" width="5" height="27" fill="#000"/>
<rect x="685" y="100" width="1" height="21" fill="#000"/>
<rect x="683" y="100" width="5" height="13" fill="#000"/>
<rect x="684" y="101" width="3" height="11" fill="#fff"/>
<rect x="693" y="93" width="1" height="22" fill="#000"/>
<rect x="691" y="94" width="5" height="6" fill="#000"/>
<rect x="692" y="95" width="3" height="4" fill="#fff"/>
<rect x="701" y="92" width="1" height="15" fill="#000"/>
<rect x="699" y="93" width="5" height="13" fill="#000"/>
<rect x="709" y="101" width="1" height="13" fill="#000"/>
<rect x="707" y="102" width="5" height="11" fill="#000"/>
<rect x="717" y="95" width="1" height="25" fill="#000"/>
<rect x="715" y="106" width="5" height="5" fill="#000"/>
<rect x="716" y="107" width="3" height="3" fill="#fff"/>
<rect x="725" y="106" width="1" height="13" fill="#000"/>
<rect x="723" y="106" width="5" height="9" fill="#000"/>
<rect x="733" y="113" width="1" height="20" fill="#000"/>
<rect x="731" y="114" width="5" height="17" fill="#000"/>
<rect x="741" y="121" width="1" height="14" fill="#000"/>
<rect x="739" y="131" width="5" height="3" fill="#000"/>
<rect x="749" y="129" width="1" height="9" fill="#000"/>
<rect x="747" y="132" width="5" height="3" fill="#000"/>
<rect x="757" y="119" width="1" height="16" fill="#000"/>
<rect x="755" y="120" width="5" height="13" fill="#000"/>
<rect x="765" y="126" width="1" height="33" fill="#000"/>
<rect x="763" y="134" width="5" height="3" fill="#000"/>
<rect x="764" y="135" width="3" height="1" fill="#fff"/>
<rect x="773" y="124" width="1" height="19" fill="#000"/>
<rect x="771" y="131" width="5" height="5" fill="#000"/>
<rect x="772" y="132" width="3" height="3" fill="#fff"/>
<rect x="781" y="131" width="1" height="5" fill="#000"/>
<rect x="779" y="132" width="5" height="3" fill="#000"/>
<rect x="789" y="131" width="1" height="5" fill="#000"/>
<rect x="787" y="132" width="5" height="3" fill="#000"/>
<rect x="788" y="133" width="3" height="1" fill="#fff"/>
<rect x="797" y="131" width="1" height="3" fill="#000"/>
<rect x="795" y="131" width="5" height="3" fill="#000"/>
<rect x="796" y="132" width="3" height="1" fill="#fff"/>
<rect x="805" y="142" width="1" height="9" fill="#000"/>
<rect x="803" y="148" width="5" height="1" fill="#000"/>
<rect x="813" y="148" width="1" height="40" fill="#000"/>
<rect x="811" y="148" width="5" height="37" fill="#000"/>
<rect x="821" y="175" width="1" height="18" fill="#000"/>
<rect x="819" y="178" width="5" height="6" fill="#000"/>
<rect x="820" y="179" width="3" height="4" fill="#fff"/>
<rect x="829" y="170" width="1" height="15" fill="#000"/>
<rect x="827" y="170" width="5" height="8" fill="#000"/>
<rect x="828" y="171" width="3" height="6" fill="#fff"/>
<rect x="837" y="167" width="1" height="21" fill="#000"/>
<rect x="835" y="170" width="5" height="11" fill="#000"/>
<rect x="845" y="175" width="1" height="7" fill="#000"/>
<rect x="843" y="178" width="5" height="3" fill="#000"/>
<rect x="844" y="179" width="3" height="1" fill="#fff"/>
<rect x="853" y="159" width="1" height="13" fill="#000"/>
<rect x="851" y="161" width="5" height="10" fill="#000"/>
<rect x="852" y="162" width="3" height="8" fill="#fff"/>
<rect x="861" y="145" width="1" height="29" fill="#000"/>
<rect x="859" y="146" width="5" height="12" fill="#000"/>
<rect x="860" y="147" width="3" height="10" fill="#fff"/>
<rect x="869" y="140" width="1" height="16" fill="#000"/>
<rect x="867" y="146" width="5" height="2" fill="#000"/>
<rect x="877" y="123" width="1" height="28" fill="#000"/>
<rect x="875" y="124" width="5" height="24" fill="#000"/>
<rect x="876" y="125" width="3" height="22" fill="#fff"/>
<rect x="885" y="113" width="1" height="18" fill="#000"/>
<rect x="883" y="115" width="5" height="9" fill="#000"/>
<rect x="884" y="116" width="3" height="7" fill="#fff"/>
<rect x="893" y="110" width="1" height="10" fill="#000"/>
<rect x="891" y="115" width="5" height="5" fill="#000"/>
<rect x="901" y="107" width="1" height="9" fill="#000"/>
<rect x="899" y="109" width="5" height="7" fill="#000"/>
<rect x="900" y="110" width="3" height="5" fill="#fff"/>
<rect x="909" y="91" width="1" height="55" fill="#000"/>
<rect x="907" y="109" width="5" height="36" fill="#000"/>
<rect x="917" y="116" width="1" height="30" fill="#000"/>
<rect x="915" y="119" width="5" height="26" fill="#000"/>
<rect x="916" y="120" width="3" height="24" fill="#fff"/>
<rect x="925" y="115" width="1" height="17" fill="#000"/>
<rect x="923" y="117" width="5" height="4" fill="#000"/>
<rect x="924" y="118" width="3" height="2" fill="#fff"/>
<rect x="933" y="113" width="1" height="46" fill="#000"/>
<rect x="931" y="117" width="5" height="25" fill="#000"/>
<rect x="941" y="131" width="1" height="12" fill="#000"/>
<rect x="939" y="131" width="5" height="11" fill="#000"/>
<rect x="940" y="132" width="3" height="9" fill="#fff"/>
<rect x="949" y="135" width="1" height="17" fill="#000"/>
<rect x="947" y="141" width="5" height="7" fill="#000"/>
<rect x="957" y="122" width="1" height="27" fill="#000"/>
<rect x="955" y="138" width="5" height="10" fill="#000"/>
<rect x="956" y="139" width="3" height="8" fill="#fff"/>
<rect x="965" y="136" width="1" height="49" fill="#000"/>
<rect x="963" y="138" width="5" height="25" fill="#000"/>
<rect x="973" y="156" width="1" height="35" fill="#000"/>
<rect x="971" y="163" width="5" height="25" fill="#000"/>
<rect x="981" y="164" width="1" height="28" fill="#000"/>
<rect x="979" y="182" width="5" height="5" fill="#000"/>
<rect x="980" y="183" width="3" height="3" fill="#fff"/>
<rect x="989" y="176" width="1" height="8" fill="#000"/>
<rect x="987" y="183" width="5" height="1" fill="#000"/>
<rect x="997" y="218" width="1" height="19" fill="#000"/>
<rect x="995" y="234" width="5" height="1" fill="#000"/>
<rect x="1005" y="226" width="1" height="58" fill="#000"/>
<rect x="1003" y="232" width="5" height="34" fill="#000"/>
<rect x="1013" y="261" width="1" height="52" fill="#000"/>
<rect x="1011" y="265" width="5" height="36" fill="#000"/>
<rect x="1021" y="284" width="1" height="41" fill="#000"/>
<rect x="1019" y="301" width="5" height="6" fill="#000"/>
<rect x="1029" y="297" width="1" height="43" fill="#000"/>
<rect x="1027" y="305" width="5" height="20" fill="#000"/>
<rect x="1037" y="304" width="1" height="28" fill="#000"/>
<rect x="1035" y="320" width="5" height="6" fill="#000"/>
<rect x="1036" y="321" width="3" height="4" fill="#fff"/>
<rect x="1045" y="292" width="1" height="31" fill="#000"/>
<rect x="1043" y="298" width="5" height="8" fill="#000"/>
<rect x="1044" y="299" width="3" height="6" fill="#fff"/>
<rect x="1053" y="244" width="1" height="63" fill="#000"/>
<rect x="1051" y="259" width="5" height="42" fill="#000"/>
<rect x="1052" y="260" width="3" height="40" fill="#fff"/>
<rect x="1061" y="247" width="1" height="59" fill="#000"/>
<rect x="1059" y="258" width="5" height="39" fill="#000"/>
<rect x="1069" y="273" width="1" height="31" fill="#000"/>
<rect x="1067" y="293" width="5" height="3" fill="#000"/>
<rect x="1068" y="294" width="3" height="1" fill="#fff"/>
<rect x="1077" y="291" width="1" height="52" fill="#000"/>
<rect x="1075" y="293" width="5" height="48" fill="#000"/>
<rect x="1085" y="336" width="1" height="30" fill="#000"/>
<rect x="1083" y="341" width="5" height="9" fill="#000"/>
<rect x="1093" y="302" width="1" height="28" fill="#000"/>
<rect x="1091" y="305" width="5" height="21" fill="#000"/>
<rect x="1092" y="306" width="3" height="19" fill="#fff"/>
<rect x="1101" y="283" width="1" height="51" fill="#000"/>
<rect x="1099" y="292" width="5" height="6" fill="#000"/>
<rect x="1100" y="293" width="3" height="4" fill="#fff"/>
<rect x="1109" y="285" width="1" height="66" fill="#000"/>
<rect x="1107" y="291" width="5" height="40" fill="#000"/>
<rect x="1117" y="280" width="1" height="52" fill="#000"/>
<rect x="1115" y="289" width="5" height="40" fill="#000"/>
<rect x="1116" y="290" width="3" height="38" fill="#fff"/>
<rect x="1125" y="282" width="1" height="50" fill="#000"/>
<rect x="1123" y="290" width="5" height="30" fill="#000"/>
<rect x="1133" y="304" width="1" height="27" fill="#000"/>
<rect x="1131" y="311" width="5" height="10" fill="#000"/>
<rect x="1132" y="312" width="3" height="8" fill="#fff"/>
<rect x="1141" y="302" width="1" height="22" fill="#000"/>
<rect x="1139" y="311" width="5" height="2" fill="#000"/>
<rect x="1149" y="308" width="1" height="48" fill="#000"/>
<rect x="1147" y="311" width="5" height="40" fill="#000"/>
<rect x="1157" y="332" width="1" height="42" fill="#000"/>
<rect x="1155" y="349" width="5" height="10" fill="#000"/>
<rect x="1165" y="355" width="1" height="49" fill="#000"/>
<rect x="1163" y="357" width="5" height="31" fill="#000"/>
<rect x="1173" y="350" width="1" height="65" fill="#000"/>
<rect x="1171" y="383" width="5" height="5" fill="#000"/>
<rect x="1172" y="384" width="3" height="3" fill="#fff"/>
<rect x="1181" y="381" width="1" height="39" fill="#000"/>
<rect x="1179" y="384" width="5" height="36" fill="#000"/>
<rect x="1189" y="429" width="1" height="28" fill="#000"/>
<rect x="1187" y="438" width="5" height="11" fill="#000"/>
<rect x="1188" y="439" width="3" height="9" fill="#fff"/>
<rect x="1197" y="428" width="1" height="62" fill="#000"/>
<rect x="1195" y="438" width="5" height="48" fill="#000"/>
<rect x="1205" y="456" width="1" height="74" fill="#000"/>
<rect x="1203" y="478" width="5" height="19" fill="#000"/>
<rect x="1213" y="487" width="1" height="54" fill="#000"/>
<rect x="1211" y="496" width="5" height="40" fill="#000"/>
<rect x="1221" y="499" width="1" height="72" fill="#000"/>
<rect x="1219" y="532" width="5" height="29" fill="#000"/>
<rect x="1229" y="531" width="1" height="41" fill="#000"/>
<rect x="1227" y="548" width="5" height="13" fill="#000"/>
<rect x="1228" y="549" width="3" height="11" fill="#fff"/>
<rect x="1237" y="514" width="1" height="28" fill="#000"/>
<rect x="1235" y="516" width="5" height="17" fill="#000"/>
<rect x="1236" y="517" width="3" height="15" fill="#fff"/>
<rect x="1245" y="402" width="1" height="119" fill="#000"/>
<rect x="1243" y="428" width="5" height="84" fill="#000"/>
<rect x="1244" y="429" width="3" height="82" fill="#fff"/>
<rect x="1253" y="423" width="1" height="68" fill="#000"/>
<rect x="1251" y="428" width="5" height="57" fill="#000"/>
<rect x="1261" y="470" width="1" height="70" fill="#000"/>
<rect x="1259" y="486" width="5" height="17" fill="#000"/>
<rect x="1269" y="457" width="1" height="71" fill="#000"/>
<rect x="1267" y="476" width="5" height="26" fill="#000"/>
<rect x="1268" y="477" width="3" height="24" fill="#fff"/>
<rect x="1277" y="442" width="1" height="55" fill="#000"/>
<rect x="1275" y="449" width="5" height="27" fill="#000"/>
<rect x="1276" y="450" width="3" height="25" fill="#fff"/>
<rect x="1285" y="394" width="1" height="30" fill="#000"/>
<rect x="1283" y="395" width="5" height="23" fill="#000"/>
<rect x="1284" y="396" width="3" height="21" fill="#fff"/>
<rect x="1293" y="387" width="1" height="65" fill="#000"/>
<rect x="1291" y="398" width="5" height="41" fill="#000"/>
<rect x="1301" y="432" width="1" height="67" fill="#000"/>
<rect x="1299" y="438" width="5" height="43" fill="#000"/>
<rect x="1309" y="438" width="1" height="42" fill="#000"/>
<rect x="1307" y="444" width="5" height="35" fill="#000"/>
<rect x="1317" y="420" width="1" height="98" fill="#000"/>
<rect x="1315" y="486" width="5" height="32" fill="#000"/>
<rect x="1325" y="486" width="1" height="55" fill="#000"/>
<rect x="1323" y="495" width="5" height="23" fill="#000"/>
<rect x="1324" y="496" width="3" height="21" fill="#fff"/>
<rect x="1190" y="478" width="172" height="8" fill="#00ff00"/>
</g>
<g clip-path="url(#cm)" shape-rendering="crispEdges" stroke-linecap="butt" stroke-linejoin="miter">
<line x1="1076.4" y1="262.9" x2="1228.2" y2="557.4" stroke="#ff0000" stroke-width="3.4"/>
<polygon points="1230.0,561.0 1219.4,551.8 1228.7,547.1" fill="#ff0000"/>
<line x1="1230.0" y1="561.0" x2="1243.6" y2="406.0" stroke="#ff0000" stroke-width="3.4"/>
<polygon points="1243.9,402.0 1247.9,415.4 1237.6,414.5" fill="#ff0000"/>
<line x1="1243.9" y1="402.0" x2="1263.4" y2="522.1" stroke="#ff0000" stroke-width="3.4"/>
<polygon points="1264.0,526.0 1256.8,514.0 1267.1,512.3" fill="#ff0000"/>
<line x1="1264.0" y1="526.0" x2="1291.0" y2="399.4" stroke="#ff0000" stroke-width="3.4"/>
<polygon points="1291.8,395.5 1294.2,409.3 1284.0,407.1" fill="#ff0000"/>
<line x1="1291.8" y1="395.5" x2="1319.9" y2="533.9" stroke="#ff0000" stroke-width="3.4"/>
<polygon points="1320.7,537.8 1313.0,526.1 1323.2,524.0" fill="#ff0000"/>
<polygon points="1294.5,403 1299,400.5 1301.3,407 1300.5,413.5 1297,411.5" fill="#ff0000"/>
<line x1="941" y1="117" x2="1336" y2="476" stroke="#0000ff" stroke-width="3.2"/>
<polygon points="1342.7,482.2 1330.5,478.5 1338,470.5" fill="#0000ff"/>
</g>
<g shape-rendering="crispEdges">
<rect x="1611.5" y="455.5" width="4" height="4" fill="#fff" stroke="#ff0000" stroke-width="1"/>
<rect x="-2.5" y="455.5" width="4" height="4" fill="#fff" stroke="#ff0000" stroke-width="1"/>
<rect x="1611.5" y="478.5" width="4" height="4" fill="#fff" stroke="#32cd32" stroke-width="1"/>
<rect x="-2.5" y="478.5" width="4" height="4" fill="#fff" stroke="#32cd32" stroke-width="1"/>
<rect x="1611.5" y="521.5" width="4" height="4" fill="#fff" stroke="#0000ff" stroke-width="1"/>
<rect x="-2.5" y="521.5" width="4" height="4" fill="#fff" stroke="#0000ff" stroke-width="1"/>
<rect x="1611.5" y="548.5" width="4" height="4" fill="#fff" stroke="#0000ff" stroke-width="1"/>
<rect x="-2.5" y="548.5" width="4" height="4" fill="#fff" stroke="#0000ff" stroke-width="1"/>
<rect x="1502" y="480" width="8" height="1" fill="#ff0000"/>
<rect x="1509.5" y="478.5" width="4" height="4" fill="#fff" stroke="#ff0000" stroke-width="1"/>
<rect x="1512.5" y="468.5" width="73" height="24" fill="#fff" stroke="#ff0000" stroke-width="1"/>
</g>
<g shape-rendering="crispEdges" fill="#000">
<rect x="0" y="31" width="1617" height="1"/>
<rect x="0" y="584" width="1617" height="1"/>
<rect x="0" y="586" width="1617" height="1"/>
<rect x="0" y="756" width="1617" height="1"/>
<rect x="0" y="758" width="1617" height="1"/>
<rect x="0" y="932" width="1617" height="1"/>
<rect x="1616" y="31" width="1" height="554"/>
<rect x="1616" y="586" width="1" height="171"/>
<rect x="1616" y="758" width="1" height="175"/>
<rect x="1617" y="53" width="2" height="1"/>
<rect x="1617" y="86" width="2" height="1"/>
<rect x="1617" y="119" width="2" height="1"/>
<rect x="1617" y="152" width="2" height="1"/>
<rect x="1617" y="185" width="2" height="1"/>
<rect x="1617" y="218" width="2" height="1"/>
<rect x="1617" y="251" width="2" height="1"/>
<rect x="1617" y="284" width="2" height="1"/>
<rect x="1617" y="317" width="2" height="1"/>
<rect x="1617" y="350" width="2" height="1"/>
<rect x="1617" y="383" width="2" height="1"/>
<rect x="1617" y="416" width="2" height="1"/>
<rect x="1617" y="449" width="2" height="1"/>
<rect x="1617" y="482" width="2" height="1"/>
<rect x="1617" y="515" width="2" height="1"/>
<rect x="1617" y="548" width="2" height="1"/>
<rect x="1617" y="581" width="2" height="1"/>
<rect x="1617" y="588" width="2" height="1"/>
<rect x="1617" y="639" width="2" height="1"/>
<rect x="1617" y="754" width="2" height="1"/>
<rect x="61" y="933" width="1" height="3"/>
<rect x="125" y="933" width="1" height="3"/>
<rect x="189" y="933" width="1" height="3"/>
<rect x="253" y="933" width="1" height="3"/>
<rect x="317" y="933" width="1" height="3"/>
<rect x="381" y="933" width="1" height="3"/>
<rect x="445" y="933" width="1" height="3"/>
<rect x="509" y="933" width="1" height="3"/>
<rect x="573" y="933" width="1" height="3"/>
<rect x="637" y="933" width="1" height="3"/>
<rect x="701" y="933" width="1" height="3"/>
<rect x="765" y="933" width="1" height="3"/>
<rect x="829" y="933" width="1" height="3"/>
<rect x="893" y="933" width="1" height="3"/>
<rect x="957" y="933" width="1" height="3"/>
<rect x="1021" y="933" width="1" height="3"/>
<rect x="1085" y="933" width="1" height="3"/>
<rect x="1149" y="933" width="1" height="3"/>
<rect x="1213" y="933" width="1" height="3"/>
<rect x="1277" y="933" width="1" height="3"/>
</g>
<rect x="1662" y="29" width="1" height="923" fill="#d4d0c8" shape-rendering="crispEdges"/>
<polygon points="1335,32 1344.5,32 1339.7,37" fill="#c0c0c0"/>
<g clip-path="url(#c2)" shape-rendering="crispEdges">
<rect x="5" y="639" width="1" height="7" fill="#c0c0c0"/>
<rect x="13" y="639" width="1" height="8" fill="#c0c0c0"/>
<rect x="21" y="639" width="1" height="9" fill="#c0c0c0"/>
<rect x="29" y="639" width="1" height="11" fill="#c0c0c0"/>
<rect x="37" y="639" width="1" height="17" fill="#c0c0c0"/>
<rect x="45" y="639" width="1" height="22" fill="#c0c0c0"/>
<rect x="53" y="639" width="1" height="28" fill="#c0c0c0"/>
<rect x="61" y="639" width="1" height="31" fill="#c0c0c0"/>
<rect x="69" y="639" width="1" height="36" fill="#c0c0c0"/>
<rect x="77" y="639" width="1" height="39" fill="#c0c0c0"/>
<rect x="85" y="639" width="1" height="41" fill="#c0c0c0"/>
<rect x="93" y="639" width="1" height="41" fill="#c0c0c0"/>
<rect x="101" y="639" width="1" height="43" fill="#c0c0c0"/>
<rect x="109" y="639" width="1" height="42" fill="#c0c0c0"/>
<rect x="117" y="639" width="1" height="38" fill="#c0c0c0"/>
<rect x="125" y="639" width="1" height="34" fill="#c0c0c0"/>
<rect x="133" y="639" width="1" height="31" fill="#c0c0c0"/>
<rect x="141" y="639" width="1" height="28" fill="#c0c0c0"/>
<rect x="149" y="639" width="1" height="25" fill="#c0c0c0"/>
<rect x="157" y="639" width="1" height="23" fill="#c0c0c0"/>
<rect x="165" y="639" width="1" height="20" fill="#c0c0c0"/>
<rect x="173" y="639" width="1" height="19" fill="#c0c0c0"/>
<rect x="181" y="639" width="1" height="19" fill="#c0c0c0"/>
<rect x="189" y="639" width="1" height="24" fill="#c0c0c0"/>
<rect x="197" y="639" width="1" height="26" fill="#c0c0c0"/>
<rect x="205" y="639" width="1" height="27" fill="#c0c0c0"/>
<rect x="213" y="639" width="1" height="30" fill="#c0c0c0"/>
<rect x="221" y="639" width="1" height="28" fill="#c0c0c0"/>
<rect x="229" y="639" width="1" height="26" fill="#c0c0c0"/>
<rect x="237" y="639" width="1" height="22" fill="#c0c0c0"/>
<rect x="245" y="639" width="1" height="24" fill="#c0c0c0"/>
<rect x="253" y="639" width="1" height="27" fill="#c0c0c0"/>
<rect x="261" y="639" width="1" height="30" fill="#c0c0c0"/>
<rect x="269" y="639" width="1" height="34" fill="#c0c0c0"/>
<rect x="277" y="639" width="1" height="35" fill="#c0c0c0"/>
<rect x="285" y="639" width="1" height="32" fill="#c0c0c0"/>
<rect x="293" y="639" width="1" height="30" fill="#c0c0c0"/>
<rect x="301" y="639" width="1" height="30" fill="#c0c0c0"/>
<rect x="309" y="639" width="1" height="28" fill="#c0c0c0"/>
<rect x="317" y="639" width="1" height="26" fill="#c0c0c0"/>
<rect x="325" y="639" width="1" height="24" fill="#c0c0c0"/>
<rect x="333" y="639" width="1" height="21" fill="#c0c0c0"/>
<rect x="341" y="639" width="1" height="14" fill="#c0c0c0"/>
<rect x="349" y="639" width="1" height="7" fill="#c0c0c0"/>
<rect x="357" y="639" width="1" height="1" fill="#c0c0c0"/>
<rect x="365" y="637" width="1" height="2" fill="#c0c0c0"/>
<rect x="373" y="633" width="1" height="6" fill="#c0c0c0"/>
<rect x="381" y="630" width="1" height="9" fill="#c0c0c0"/>
<rect x="389" y="623" width="1" height="16" fill="#c0c0c0"/>
<rect x="397" y="618" width="1" height="21" fill="#c0c0c0"/>
<rect x="405" y="614" width="1" height="25" fill="#c0c0c0"/>
<rect x="413" y="611" width="1" height="28" fill="#c0c0c0"/>
<rect x="421" y="609" width="1" height="30" fill="#c0c0c0"/>
<rect x="429" y="605" width="1" height="34" fill="#c0c0c0"/>
<rect x="437" y="602" width="1" height="37" fill="#c0c0c0"/>
<rect x="445" y="600" width="1" height="39" fill="#c0c0c0"/>
<rect x="453" y="599" width="1" height="40" fill="#c0c0c0"/>
<rect x="461" y="597" width="1" height="42" fill="#c0c0c0"/>
<rect x="469" y="596" width="1" height="43" fill="#c0c0c0"/>
<rect x="477" y="598" width="1" height="41" fill="#c0c0c0"/>
<rect x="485" y="601" width="1" height="38" fill="#c0c0c0"/>
<rect x="493" y="605" width="1" height="34" fill="#c0c0c0"/>
<rect x="501" y="607" width="1" height="32" fill="#c0c0c0"/>
<rect x="509" y="610" width="1" height="29" fill="#c0c0c0"/>
<rect x="517" y="615" width="1" height="24" fill="#c0c0c0"/>
<rect x="525" y="617" width="1" height="22" fill="#c0c0c0"/>
<rect x="533" y="620" width="1" height="19" fill="#c0c0c0"/>
<rect x="541" y="621" width="1" height="18" fill="#c0c0c0"/>
<rect x="549" y="624" width="1" height="15" fill="#c0c0c0"/>
<rect x="557" y="625" width="1" height="14" fill="#c0c0c0"/>
<rect x="565" y="626" width="1" height="13" fill="#c0c0c0"/>
<rect x="573" y="622" width="1" height="17" fill="#c0c0c0"/>
<rect x="581" y="621" width="1" height="18" fill="#c0c0c0"/>
<rect x="589" y="620" width="1" height="19" fill="#c0c0c0"/>
<rect x="597" y="619" width="1" height="20" fill="#c0c0c0"/>
<rect x="605" y="619" width="1" height="20" fill="#c0c0c0"/>
<rect x="613" y="620" width="1" height="19" fill="#c0c0c0"/>
<rect x="621" y="621" width="1" height="18" fill="#c0c0c0"/>
<rect x="629" y="621" width="1" height="18" fill="#c0c0c0"/>
<rect x="637" y="620" width="1" height="19" fill="#c0c0c0"/>
<rect x="645" y="619" width="1" height="20" fill="#c0c0c0"/>
<rect x="653" y="619" width="1" height="20" fill="#c0c0c0"/>
<rect x="661" y="621" width="1" height="18" fill="#c0c0c0"/>
<rect x="669" y="625" width="1" height="14" fill="#c0c0c0"/>
<rect x="677" y="630" width="1" height="9" fill="#c0c0c0"/>
<rect x="685" y="632" width="1" height="7" fill="#c0c0c0"/>
<rect x="693" y="633" width="1" height="6" fill="#c0c0c0"/>
<rect x="701" y="637" width="1" height="2" fill="#c0c0c0"/>
<rect x="709" y="638" width="1" height="1" fill="#c0c0c0"/>
<rect x="725" y="639" width="1" height="2" fill="#c0c0c0"/>
<rect x="733" y="639" width="1" height="5" fill="#c0c0c0"/>
<rect x="741" y="639" width="1" height="8" fill="#c0c0c0"/>
<rect x="749" y="639" width="1" height="11" fill="#c0c0c0"/>
<rect x="757" y="639" width="1" height="12" fill="#c0c0c0"/>
<rect x="765" y="639" width="1" height="13" fill="#c0c0c0"/>
<rect x="773" y="639" width="1" height="14" fill="#c0c0c0"/>
<rect x="781" y="639" width="1" height="14" fill="#c0c0c0"/>
<rect x="789" y="639" width="1" height="14" fill="#c0c0c0"/>
<rect x="797" y="639" width="1" height="14" fill="#c0c0c0"/>
<rect x="805" y="639" width="1" height="16" fill="#c0c0c0"/>
<rect x="813" y="639" width="1" height="21" fill="#c0c0c0"/>
<rect x="821" y="639" width="1" height="24" fill="#c0c0c0"/>
<rect x="829" y="639" width="1" height="25" fill="#c0c0c0"/>
<rect x="837" y="639" width="1" height="27" fill="#c0c0c0"/>
<rect x="845" y="639" width="1" height="28" fill="#c0c0c0"/>
<rect x="853" y="639" width="1" height="26" fill="#c0c0c0"/>
<rect x="861" y="639" width="1" height="23" fill="#c0c0c0"/>
<rect x="869" y="639" width="1" height="21" fill="#c0c0c0"/>
<rect x="877" y="639" width="1" height="16" fill="#c0c0c0"/>
<rect x="885" y="639" width="1" height="10" fill="#c0c0c0"/>
<rect x="893" y="639" width="1" height="7" fill="#c0c0c0"/>
<rect x="901" y="639" width="1" height="3" fill="#c0c0c0"/>
<rect x="909" y="639" width="1" height="3" fill="#c0c0c0"/>
<rect x="917" y="639" width="1" height="1" fill="#c0c0c0"/>
<rect x="949" y="639" width="1" height="2" fill="#c0c0c0"/>
<rect x="957" y="639" width="1" height="3" fill="#c0c0c0"/>
<rect x="965" y="639" width="1" height="5" fill="#c0c0c0"/>
<rect x="973" y="639" width="1" height="10" fill="#c0c0c0"/>
<rect x="981" y="639" width="1" height="13" fill="#c0c0c0"/>
<rect x="989" y="639" width="1" height="16" fill="#c0c0c0"/>
<rect x="997" y="639" width="1" height="24" fill="#c0c0c0"/>
<rect x="1005" y="639" width="1" height="33" fill="#c0c0c0"/>
<rect x="1013" y="639" width="1" height="45" fill="#c0c0c0"/>
<rect x="1021" y="639" width="1" height="53" fill="#c0c0c0"/>
<rect x="1029" y="639" width="1" height="61" fill="#c0c0c0"/>
<rect x="1037" y="639" width="1" height="67" fill="#c0c0c0"/>
<rect x="1045" y="639" width="1" height="67" fill="#c0c0c0"/>
<rect x="1053" y="639" width="1" height="63" fill="#c0c0c0"/>
<rect x="1061" y="639" width="1" height="63" fill="#c0c0c0"/>
<rect x="1069" y="639" width="1" height="61" fill="#c0c0c0"/>
<rect x="1077" y="639" width="1" height="67" fill="#c0c0c0"/>
<rect x="1085" y="639" width="1" height="69" fill="#c0c0c0"/>
<rect x="1093" y="639" width="1" height="65" fill="#c0c0c0"/>
<rect x="1101" y="639" width="1" height="61" fill="#c0c0c0"/>
<rect x="1109" y="639" width="1" height="61" fill="#c0c0c0"/>
<rect x="1117" y="639" width="1" height="55" fill="#c0c0c0"/>
<rect x="1125" y="639" width="1" height="54" fill="#c0c0c0"/>
<rect x="1133" y="639" width="1" height="51" fill="#c0c0c0"/>
<rect x="1141" y="639" width="1" height="49" fill="#c0c0c0"/>
<rect x="1149" y="639" width="1" height="50" fill="#c0c0c0"/>
<rect x="1157" y="639" width="1" height="52" fill="#c0c0c0"/>
<rect x="1165" y="639" width="1" height="55" fill="#c0c0c0"/>
<rect x="1173" y="639" width="1" height="59" fill="#c0c0c0"/>
<rect x="1181" y="639" width="1" height="64" fill="#c0c0c0"/>
<rect x="1189" y="639" width="1" height="69" fill="#c0c0c0"/>
<rect x="1197" y="639" width="1" height="77" fill="#c0c0c0"/>
<rect x="1205" y="639" width="1" height="85" fill="#c0c0c0"/>
<rect x="1213" y="639" width="1" height="94" fill="#c0c0c0"/>
<rect x="1221" y="639" width="1" height="104" fill="#c0c0c0"/>
<rect x="1229" y="639" width="1" height="109" fill="#c0c0c0"/>
<rect x="1237" y="639" width="1" height="108" fill="#c0c0c0"/>
<rect x="1245" y="639" width="1" height="95" fill="#c0c0c0"/>
<rect x="1253" y="639" width="1" height="90" fill="#c0c0c0"/>
<rect x="1261" y="639" width="1" height="88" fill="#c0c0c0"/>
<rect x="1269" y="639" width="1" height="82" fill="#c0c0c0"/>
<rect x="1277" y="639" width="1" height="73" fill="#c0c0c0"/>
<rect x="1285" y="639" width="1" height="60" fill="#c0c0c0"/>
<rect x="1293" y="639" width="1" height="53" fill="#c0c0c0"/>
<rect x="1301" y="639" width="1" height="48" fill="#c0c0c0"/>
<rect x="1309" y="639" width="1" height="47" fill="#c0c0c0"/>
<rect x="1317" y="639" width="1" height="51" fill="#c0c0c0"/>
<rect x="1325" y="639" width="1" height="50" fill="#c0c0c0"/>
<path d="M53 653h3v1h-3zM371 653h2v1h-2zM804 653h2v1h-2zM809 653h1v1h-1zM917 653h2v1h-2zM1007 653h2v1h-2zM126 678h2v1h-2zM131 678h3v1h-3zM137 678h1v1h-1zM427 621h1v1h-1zM587 621h3v1h-3zM593 621h3v1h-3zM599 621h3v1h-3zM605 621h3v1h-3zM611 621h3v1h-3zM617 621h3v1h-3zM623 621h3v1h-3zM629 621h3v1h-3zM635 621h3v1h-3zM641 621h3v1h-3zM647 621h3v1h-3zM653 621h1v1h-1zM666 621h2v1h-2zM671 621h3v1h-3zM101 672h2v1h-2zM162 672h2v1h-2zM1032 672h1v1h-1zM77 661h2v1h-2zM355 661h1v1h-1zM851 661h1v1h-1zM887 661h3v1h-3zM1019 661h1v1h-1zM1087 703h1v1h-1zM1115 703h3v1h-3zM1121 703h1v1h-1zM439 615h1v1h-1zM557 615h3v1h-3zM71 658h2v1h-2zM361 658h1v1h-1zM828 658h2v1h-2zM833 658h1v1h-1zM899 658h3v1h-3zM1015 658h1v1h-1zM103 673h1v1h-1zM156 673h2v1h-2zM161 673h1v1h-1zM1033 673h1v1h-1zM1236 723h1v1h-1zM1295 723h1v1h-1zM95 669h1v1h-1zM173 669h2v1h-2zM305 669h3v1h-3zM311 669h3v1h-3zM317 669h3v1h-3zM323 669h3v1h-3zM329 669h3v1h-3zM30 649h2v1h-2zM35 649h3v1h-3zM378 649h1v1h-1zM786 649h2v1h-2zM791 649h1v1h-1zM925 649h1v1h-1zM929 649h1v1h-1zM1001 649h1v1h-1zM451 610h1v1h-1zM540 610h2v1h-2zM1085 702h2v1h-2zM1122 702h2v1h-2zM1127 702h1v1h-1zM1325 702h1v1h-1zM1259 733h3v1h-3zM1265 733h1v1h-1zM1277 733h2v1h-2zM1092 705h2v1h-2zM1097 705h3v1h-3zM1103 705h3v1h-3zM1212 705h1v1h-1zM1319 705h2v1h-2zM197 663h3v1h-3zM203 663h3v1h-3zM209 663h3v1h-3zM215 663h3v1h-3zM221 663h3v1h-3zM227 663h3v1h-3zM233 663h3v1h-3zM858 663h2v1h-2zM863 663h3v1h-3zM869 663h3v1h-3zM875 663h3v1h-3zM881 663h1v1h-1zM1021 663h1v1h-1zM180 666h2v1h-2zM258 666h2v1h-2zM263 666h3v1h-3zM341 666h3v1h-3zM1025 666h1v1h-1zM383 646h2v1h-2zM768 646h2v1h-2zM995 646h1v1h-1zM48 652h2v1h-2zM373 652h1v1h-1zM803 652h1v1h-1zM919 652h1v1h-1zM1218 710h2v1h-2zM533 607h2v1h-2zM85 665h1v1h-1zM185 665h3v1h-3zM251 665h3v1h-3zM257 665h1v1h-1zM347 665h1v1h-1zM1217 709h1v1h-1zM1313 709h1v1h-1zM119 677h3v1h-3zM125 677h1v1h-1zM138 677h2v1h-2zM143 677h1v1h-1zM1038 677h2v1h-2zM683 623h3v1h-3zM689 623h1v1h-1zM385 645h1v1h-1zM767 645h1v1h-1zM941 645h3v1h-3zM991 645h1v1h-1zM390 642h2v1h-2zM755 642h3v1h-3zM954 642h2v1h-2zM959 642h3v1h-3zM965 642h3v1h-3zM971 642h3v1h-3zM977 642h1v1h-1zM5 648h3v1h-3zM11 648h3v1h-3zM17 648h3v1h-3zM23 648h3v1h-3zM29 648h1v1h-1zM379 648h1v1h-1zM779 648h3v1h-3zM785 648h1v1h-1zM930 648h2v1h-2zM167 671h3v1h-3zM1031 671h1v1h-1zM83 664h2v1h-2zM191 664h3v1h-3zM239 664h3v1h-3zM245 664h3v1h-3zM348 664h2v1h-2zM413 628h2v1h-2zM713 628h1v1h-1zM421 624h1v1h-1zM690 624h2v1h-2zM695 624h3v1h-3zM1157 694h3v1h-3zM1163 694h3v1h-3zM1169 694h3v1h-3zM1175 694h3v1h-3zM1181 694h3v1h-3zM773 647h3v1h-3zM935 647h3v1h-3zM996 647h2v1h-2zM91 668h1v1h-1zM175 668h1v1h-1zM282 668h2v1h-2zM287 668h3v1h-3zM293 668h3v1h-3zM299 668h3v1h-3zM335 668h3v1h-3zM1027 668h1v1h-1zM581 620h3v1h-3zM654 620h2v1h-2zM659 620h3v1h-3zM665 620h1v1h-1zM437 616h2v1h-2zM563 616h1v1h-1zM1079 700h3v1h-3zM1133 700h3v1h-3zM1205 700h1v1h-1zM89 667h2v1h-2zM179 667h1v1h-1zM269 667h3v1h-3zM275 667h3v1h-3zM281 667h1v1h-1zM1026 667h1v1h-1zM79 662h1v1h-1zM353 662h2v1h-2zM852 662h2v1h-2zM857 662h1v1h-1zM882 662h2v1h-2zM1020 662h1v1h-1zM107 674h3v1h-3zM155 674h1v1h-1zM433 618h1v1h-1zM569 618h3v1h-3zM73 659h1v1h-1zM359 659h2v1h-2zM834 659h2v1h-2zM839 659h3v1h-3zM893 659h3v1h-3zM468 603h2v1h-2zM521 603h1v1h-1zM491 599h3v1h-3zM497 599h3v1h-3zM503 599h3v1h-3zM1051 685h1v1h-1zM113 676h3v1h-3zM144 676h2v1h-2zM1037 676h1v1h-1zM1055 687h1v1h-1zM1213 706h1v1h-1zM1235 722h1v1h-1zM1296 722h1v1h-1zM1091 704h1v1h-1zM1109 704h3v1h-3zM1211 704h1v1h-1zM1321 704h1v1h-1zM402 634h2v1h-2zM731 634h2v1h-2zM149 675h3v1h-3zM485 600h3v1h-3zM509 600h3v1h-3zM1050 684h1v1h-1zM41 650h3v1h-3zM377 650h1v1h-1zM792 650h2v1h-2zM923 650h2v1h-2zM1002 650h1v1h-1zM762 644h2v1h-2zM947 644h1v1h-1zM989 644h2v1h-2zM60 655h2v1h-2zM367 655h1v1h-1zM816 655h2v1h-2zM911 655h1v1h-1zM827 657h1v1h-1zM905 657h1v1h-1zM1014 657h1v1h-1zM1266 734h2v1h-2zM1271 734h3v1h-3zM1069 696h1v1h-1zM1151 696h3v1h-3zM1193 696h3v1h-3zM389 643h1v1h-1zM761 643h1v1h-1zM948 643h2v1h-2zM953 643h1v1h-1zM978 643h2v1h-2zM983 643h3v1h-3zM444 613h2v1h-2zM551 613h3v1h-3zM1314 708h2v1h-2zM401 635h1v1h-1zM733 635h1v1h-1zM407 631h2v1h-2zM725 631h2v1h-2zM1074 698h2v1h-2zM1140 698h2v1h-2zM1145 698h1v1h-1zM1199 698h3v1h-3zM473 602h3v1h-3zM516 602h2v1h-2zM1223 713h1v1h-1zM1308 713h1v1h-1zM59 654h1v1h-1zM810 654h2v1h-2zM815 654h1v1h-1zM912 654h2v1h-2zM1009 654h1v1h-1zM425 622h2v1h-2zM677 622h3v1h-3zM395 639h2v1h-2zM743 639h3v1h-3zM1043 680h2v1h-2zM419 625h2v1h-2zM701 625h3v1h-3zM845 660h3v1h-3zM449 611h2v1h-2zM545 611h3v1h-3zM1128 701h2v1h-2zM1206 701h2v1h-2zM461 606h2v1h-2zM528 606h2v1h-2zM47 651h1v1h-1zM797 651h3v1h-3zM1003 651h1v1h-1zM738 637h2v1h-2zM1253 732h3v1h-3zM1279 732h1v1h-1zM1067 695h2v1h-2zM1187 695h3v1h-3zM455 608h3v1h-3zM535 608h1v1h-1zM65 656h3v1h-3zM365 656h2v1h-2zM821 656h3v1h-3zM906 656h2v1h-2zM1013 656h1v1h-1zM463 605h1v1h-1zM527 605h1v1h-1zM1061 692h2v1h-2zM749 641h3v1h-3zM1249 730h1v1h-1zM1283 730h2v1h-2zM415 627h1v1h-1zM708 627h2v1h-2zM479 601h3v1h-3zM515 601h1v1h-1zM431 619h2v1h-2zM575 619h3v1h-3zM1241 726h2v1h-2zM1290 726h1v1h-1zM96 670h2v1h-2zM467 604h1v1h-1zM522 604h2v1h-2zM409 630h1v1h-1zM719 630h3v1h-3zM1302 717h2v1h-2zM564 617h2v1h-2zM1056 688h1v1h-1zM1229 718h1v1h-1zM1301 718h1v1h-1zM1139 699h1v1h-1zM1230 719h2v1h-2zM443 614h1v1h-1zM1073 697h1v1h-1zM1146 697h2v1h-2zM1225 715h1v1h-1zM1243 727h1v1h-1zM1289 727h1v1h-1zM1297 721h1v1h-1zM737 636h1v1h-1zM1224 714h1v1h-1zM1307 714h1v1h-1zM1247 729h2v1h-2zM1285 729h1v1h-1zM707 626h1v1h-1zM714 629h2v1h-2zM397 638h1v1h-1zM1057 689h1v1h-1zM539 609h1v1h-1zM1291 725h1v1h-1zM1049 683h1v1h-1zM1045 681h1v1h-1zM727 632h1v1h-1zM1063 693h1v1h-1zM1237 724h1v1h-1zM1309 712h1v1h-1z" fill="#ff0000"/>
</g>
<g clip-path="url(#c3)" shape-rendering="crispEdges">
<line x1="0" y1="794.5" x2="1616" y2="794.5" stroke="#c0c0c0" stroke-width="1" stroke-dasharray="3,3"/>
<line x1="0" y1="845.5" x2="1616" y2="845.5" stroke="#c0c0c0" stroke-width="1" stroke-dasharray="3,3"/>
<line x1="0" y1="906.5" x2="1616" y2="906.5" stroke="#c0c0c0" stroke-width="1" stroke-dasharray="3,3"/>
<path d="M845 878h1v2h-1zM187 876h1v3h-1zM218 863h1v3h-1zM188 879h1v2h-1zM671 846h1v2h-1zM1115 859h1v2h-1zM1231 890h1v2h-1zM993 874h1v2h-1zM825 881h1v2h-1zM32 871h1v3h-1zM1239 872h1v3h-1zM1145 863h1v2h-1zM860 852h1v2h-1zM1282 846h1v2h-1zM810 887h1v2h-1zM1050 869h1v3h-1zM217 866h1v3h-1zM928 842h1v2h-1zM19 864h1v2h-1zM20 866h1v2h-1zM221 856h1v2h-1zM476 817h1v2h-1zM182 863h1v2h-1zM655 824h1v2h-1zM183 865h1v3h-1zM186 873h1v3h-1zM669 842h1v2h-1zM1048 874h1v3h-1zM1235 882h1v2h-1zM854 861h1v2h-1zM875 839h1v2h-1zM994 876h1v2h-1zM1086 880h1v2h-1zM991 870h1v2h-1zM114 863h1v2h-1zM33 874h1v2h-1zM850 868h1v2h-1zM34 876h1v3h-1zM913 844h1v2h-1zM905 839h1v3h-1zM388 815h1v2h-1zM334 844h1v2h-1zM220 858h1v3h-1zM808 883h1v2h-1zM927 840h1v2h-1zM930 845h1v2h-1zM931 847h1v2h-1zM1047 877h1v2h-1zM874 841h1v2h-1zM113 865h1v2h-1zM1085 882h1v2h-1zM1043 885h1v2h-1zM1242 863h1v3h-1zM964 857h1v2h-1zM870 849h1v2h-1zM109 873h1v2h-1zM181 861h1v2h-1zM105 879h1v2h-1zM329 852h1v2h-1zM1046 879h1v2h-1zM1111 865h1v2h-1zM51 885h1v2h-1zM14 854h1v2h-1zM869 851h1v2h-1zM108 875h1v2h-1zM1038 893h1v2h-1zM184 868h1v3h-1zM660 835h1v2h-1zM674 853h1v2h-1zM989 866h1v2h-1zM214 874h1v3h-1zM1110 867h1v2h-1zM1 850h1v2h-1zM1053 863h1v2h-1zM35 879h1v2h-1zM799 867h1v2h-1zM568 827h1v2h-1zM240 857h1v2h-1zM4 846h1v2h-1zM243 862h1v2h-1zM13 852h1v2h-1zM213 877h1v2h-1zM244 864h1v2h-1zM958 849h1v2h-1zM1238 875h1v3h-1zM658 831h1v2h-1zM189 881h1v2h-1zM1247 857h1v2h-1zM673 850h1v3h-1zM338 838h1v2h-1zM1070 872h1v2h-1zM995 878h1v2h-1zM37 883h1v2h-1zM969 863h1v2h-1zM801 870h1v2h-1zM110 871h1v2h-1zM846 876h1v2h-1zM384 823h1v2h-1zM679 857h1v2h-1zM1116 857h1v2h-1zM284 858h1v2h-1zM873 843h1v2h-1zM242 860h1v2h-1zM1241 866h1v3h-1zM911 847h1v2h-1zM1093 864h1v2h-1zM657 828h1v3h-1zM383 825h1v2h-1zM1073 876h1v2h-1zM279 866h1v2h-1zM471 807h1v2h-1zM1092 866h1v2h-1zM1244 857h1v3h-1zM1091 868h1v2h-1zM1049 872h1v2h-1zM57 883h1v2h-1zM1251 862h1v2h-1zM902 831h1v3h-1zM16 858h1v2h-1zM906 842h1v3h-1zM470 805h1v2h-1zM812 891h1v2h-1zM1234 884h1v2h-1zM916 839h1v2h-1zM1230 892h1v2h-1zM30 867h1v2h-1zM216 869h1v3h-1zM1233 886h1v2h-1zM326 857h1v2h-1zM1229 894h1v2h-1zM1105 864h1v2h-1zM1039 891h1v2h-1zM117 857h1v2h-1zM675 855h1v2h-1zM990 868h1v2h-1zM29 865h1v2h-1zM803 873h1v2h-1zM1278 852h1v2h-1zM1088 875h1v3h-1zM852 864h1v2h-1zM848 872h1v2h-1zM332 847h1v2h-1zM659 833h1v2h-1zM677 859h1v2h-1zM1243 860h1v3h-1zM1045 881h1v2h-1zM996 880h1v2h-1zM847 874h1v2h-1zM1041 888h1v2h-1zM805 877h1v2h-1zM331 849h1v2h-1zM1113 862h1v2h-1zM327 855h1v2h-1zM1044 883h1v2h-1zM513 838h1v2h-1zM1052 865h1v2h-1zM858 855h1v2h-1zM1280 849h1v2h-1zM901 829h1v2h-1zM36 881h1v2h-1zM907 845h1v2h-1zM472 809h1v2h-1zM1055 865h1v2h-1zM475 815h1v2h-1zM653 820h1v2h-1zM1051 867h1v2h-1zM811 889h1v2h-1zM116 859h1v2h-1zM47 880h1v2h-1zM849 870h1v2h-1zM387 817h1v2h-1zM1236 880h1v2h-1zM727 859h1v2h-1zM876 837h1v2h-1zM115 861h1v2h-1zM872 845h1v2h-1zM340 835h1v2h-1zM910 849h1v2h-1zM473 811h1v2h-1zM1076 880h1v2h-1zM336 841h1v2h-1zM670 844h1v2h-1zM932 849h1v2h-1zM382 827h1v2h-1zM992 872h1v2h-1zM871 847h1v2h-1zM572 820h1v2h-1zM273 874h1v2h-1zM102 883h1v2h-1zM627 827h1v2h-1zM15 856h1v2h-1zM18 862h1v2h-1zM1059 870h1v2h-1zM623 832h1v2h-1zM1284 843h1v2h-1zM185 871h1v2h-1zM661 837h1v2h-1zM215 872h1v2h-1zM676 857h1v2h-1zM804 875h1v2h-1zM807 881h1v2h-1zM926 838h1v2h-1zM1237 878h1v2h-1zM731 864h1v2h-1zM915 841h1v2h-1zM17 860h1v2h-1zM112 867h1v2h-1zM386 819h1v2h-1zM1087 878h1v2h-1zM31 869h1v2h-1zM1240 869h1v3h-1zM111 869h1v2h-1zM909 850h1v2h-1zM806 879h1v2h-1zM385 821h1v2h-1zM798 865h1v2h-1zM571 822h1v2h-1zM567 829h1v2h-1zM1090 870h1v3h-1zM239 855h1v2h-1zM904 836h1v3h-1zM851 866h1v2h-1zM961 853h1v2h-1zM908 847h1v3h-1zM570 824h1v2h-1zM654 822h1v2h-1zM1245 855h1v2h-1zM566 831h1v2h-1zM672 848h1v2h-1zM219 861h1v2h-1zM683 852h1v2h-1zM1232 888h1v2h-1zM238 853h1v2h-1zM283 860h1v2h-1zM474 813h1v2h-1zM656 826h1v2h-1zM425 813h1v2h-1zM278 868h1v2h-1zM809 885h1v2h-1zM856 858h1v2h-1zM281 863h1v2h-1zM1089 873h1v2h-1zM903 834h1v2h-1zM1018 895h5v1h-5zM1037 895h1v1h-1zM1209 895h2v1h-2zM815 891h1v1h-1zM1009 891h1v1h-1zM1199 891h3v1h-3zM52 887h1v1h-1zM54 887h1v1h-1zM820 887h1v1h-1zM1004 887h1v1h-1zM1042 887h1v1h-1zM1192 887h2v1h-2zM516 842h1v1h-1zM518 842h1v1h-1zM533 842h13v1h-13zM1285 842h1v1h-1zM354 826h2v1h-2zM362 826h4v1h-4zM485 826h2v1h-2zM569 826h1v1h-1zM607 826h2v1h-2zM628 826h1v1h-1zM23 867h3v1h-3zM246 867h2v1h-2zM733 867h5v1h-5zM756 867h6v1h-6zM767 867h3v1h-3zM780 867h4v1h-4zM972 867h1v1h-1zM975 867h3v1h-3zM1056 867h1v1h-1zM1107 867h1v1h-1zM1148 867h1v1h-1zM1260 867h2v1h-2zM107 877h1v1h-1zM194 877h1v1h-1zM211 877h2v1h-2zM261 877h3v1h-3zM271 877h1v1h-1zM829 877h1v1h-1zM1165 877h3v1h-3zM1175 877h1v1h-1zM480 822h2v1h-2zM599 822h2v1h-2zM644 822h4v1h-4zM814 892h1v1h-1zM1010 892h2v1h-2zM1202 892h2v1h-2zM133 859h2v1h-2zM173 859h3v1h-3zM241 859h1v1h-1zM288 859h1v1h-1zM297 859h1v1h-1zM324 859h2v1h-2zM678 859h1v1h-1zM965 859h1v1h-1zM1121 859h1v1h-1zM1132 859h10v1h-10zM1248 859h1v1h-1zM1270 859h2v1h-2zM1310 859h1v1h-1zM53 888h1v1h-1zM819 888h1v1h-1zM1005 888h1v1h-1zM1194 888h1v1h-1zM50 884h1v1h-1zM71 884h3v1h-3zM82 884h2v1h-2zM96 884h4v1h-4zM823 884h1v1h-1zM1000 884h1v1h-1zM1186 884h2v1h-2zM428 810h1v1h-1zM432 810h4v1h-4zM442 810h6v1h-6zM0 852h1v1h-1zM148 852h3v1h-3zM237 852h1v1h-1zM700 852h1v1h-1zM717 852h1v1h-1zM866 852h3v1h-3zM948 852h1v1h-1zM950 852h2v1h-2zM960 852h1v1h-1zM1300 852h2v1h-2zM42 880h2v1h-2zM60 880h1v1h-1zM63 880h2v1h-2zM191 880h1v1h-1zM826 880h1v1h-1zM834 880h1v1h-1zM842 880h2v1h-2zM1179 880h1v1h-1zM38 883h2v1h-2zM49 883h1v1h-1zM69 883h2v1h-2zM84 883h12v1h-12zM824 883h1v1h-1zM998 883h2v1h-2zM1082 883h3v1h-3zM1183 883h3v1h-3zM118 857h2v1h-2zM129 857h2v1h-2zM137 857h2v1h-2zM169 857h2v1h-2zM285 857h1v1h-1zM299 857h1v1h-1zM306 857h2v1h-2zM314 857h6v1h-6zM709 857h1v1h-1zM725 857h1v1h-1zM857 857h1v1h-1zM1118 857h2v1h-2zM1273 857h1v1h-1zM1308 857h1v1h-1zM196 875h1v1h-1zM207 875h2v1h-2zM258 875h2v1h-2zM1072 875h1v1h-1zM1162 875h2v1h-2zM1172 875h2v1h-2zM515 841h1v1h-1zM519 841h1v1h-1zM532 841h1v1h-1zM546 841h4v1h-4zM667 841h2v1h-2zM131 858h2v1h-2zM135 858h2v1h-2zM171 858h2v1h-2zM286 858h2v1h-2zM298 858h1v1h-1zM308 858h6v1h-6zM320 858h4v1h-4zM726 858h1v1h-1zM1120 858h1v1h-1zM1272 858h1v1h-1zM1309 858h1v1h-1zM254 872h2v1h-2zM275 872h1v1h-1zM802 872h1v1h-1zM1060 872h1v1h-1zM1064 872h4v1h-4zM1158 872h2v1h-2zM293 863h1v1h-1zM730 863h1v1h-1zM853 863h1v1h-1zM1095 863h2v1h-2zM1104 863h1v1h-1zM1266 863h1v1h-1zM1315 863h1v1h-1zM1320 863h2v1h-2zM56 885h1v1h-1zM74 885h2v1h-2zM79 885h3v1h-3zM100 885h2v1h-2zM822 885h1v1h-1zM1001 885h1v1h-1zM1188 885h2v1h-2zM356 825h6v1h-6zM484 825h1v1h-1zM605 825h2v1h-2zM629 825h5v1h-5zM482 823h1v1h-1zM601 823h2v1h-2zM640 823h4v1h-4zM929 844h1v1h-1zM1287 844h1v1h-1zM1025 897h2v1h-2zM1033 897h2v1h-2zM1213 897h2v1h-2zM1226 897h1v1h-1zM41 881h1v1h-1zM59 881h1v1h-1zM65 881h2v1h-2zM104 881h1v1h-1zM190 881h1v1h-1zM835 881h2v1h-2zM839 881h3v1h-3zM1180 881h1v1h-1zM392 815h4v1h-4zM402 815h6v1h-6zM416 815h2v1h-2zM424 815h1v1h-1zM120 856h4v1h-4zM127 856h2v1h-2zM139 856h2v1h-2zM157 856h5v1h-5zM167 856h2v1h-2zM222 856h9v1h-9zM300 856h1v1h-1zM303 856h3v1h-3zM680 856h1v1h-1zM707 856h2v1h-2zM710 856h2v1h-2zM723 856h2v1h-2zM963 856h1v1h-1zM1117 856h1v1h-1zM1246 856h1v1h-1zM1274 856h2v1h-2zM1306 856h2v1h-2zM124 855h3v1h-3zM141 855h2v1h-2zM155 855h2v1h-2zM162 855h5v1h-5zM231 855h2v1h-2zM301 855h2v1h-2zM681 855h1v1h-1zM705 855h2v1h-2zM712 855h2v1h-2zM722 855h1v1h-1zM962 855h1v1h-1zM1276 855h1v1h-1zM1305 855h1v1h-1zM5 845h1v1h-1zM1283 845h1v1h-1zM1288 845h1v1h-1zM477 819h1v1h-1zM573 819h5v1h-5zM594 819h1v1h-1zM429 809h3v1h-3zM448 809h4v1h-4zM11 850h1v1h-1zM685 850h2v1h-2zM698 850h1v1h-1zM934 850h2v1h-2zM946 850h1v1h-1zM954 850h1v1h-1zM1293 850h3v1h-3zM346 830h2v1h-2zM371 830h2v1h-2zM376 830h4v1h-4zM493 830h3v1h-3zM614 830h2v1h-2zM625 830h1v1h-1zM900 830h1v1h-1zM345 831h1v1h-1zM373 831h3v1h-3zM496 831h4v1h-4zM616 831h1v1h-1zM624 831h1v1h-1zM885 831h2v1h-2zM898 831h2v1h-2zM351 827h3v1h-3zM366 827h2v1h-2zM487 827h2v1h-2zM609 827h2v1h-2zM45 878h1v1h-1zM106 878h1v1h-1zM193 878h1v1h-1zM264 878h4v1h-4zM270 878h1v1h-1zM828 878h1v1h-1zM830 878h2v1h-2zM1074 878h1v1h-1zM1176 878h2v1h-2zM180 861h1v1h-1zM290 861h2v1h-2zM295 861h1v1h-1zM728 861h1v1h-1zM967 861h1v1h-1zM1099 861h2v1h-2zM1102 861h1v1h-1zM1114 861h1v1h-1zM1124 861h1v1h-1zM1127 861h3v1h-3zM1143 861h1v1h-1zM1250 861h1v1h-1zM1268 861h1v1h-1zM1312 861h2v1h-2zM1323 861h2v1h-2zM341 834h1v1h-1zM508 834h2v1h-2zM562 834h2v1h-2zM620 834h1v1h-1zM622 834h1v1h-1zM880 834h2v1h-2zM891 834h2v1h-2zM894 834h2v1h-2zM522 838h1v1h-1zM528 838h2v1h-2zM554 838h1v1h-1zM662 838h1v1h-1zM917 838h5v1h-5zM421 818h1v1h-1zM578 818h6v1h-6zM592 818h2v1h-2zM251 870h2v1h-2zM277 870h1v1h-1zM1154 870h2v1h-2zM339 837h1v1h-1zM512 837h1v1h-1zM523 837h1v1h-1zM527 837h1v1h-1zM555 837h2v1h-2zM922 837h4v1h-4zM282 862h1v1h-1zM292 862h1v1h-1zM294 862h1v1h-1zM729 862h1v1h-1zM968 862h1v1h-1zM1097 862h2v1h-2zM1103 862h1v1h-1zM1125 862h2v1h-2zM1144 862h1v1h-1zM1267 862h1v1h-1zM1314 862h1v1h-1zM1322 862h1v1h-1zM342 833h2v1h-2zM504 833h4v1h-4zM564 833h2v1h-2zM618 833h2v1h-2zM882 833h1v1h-1zM889 833h2v1h-2zM896 833h1v1h-1zM21 868h2v1h-2zM248 868h2v1h-2zM738 868h8v1h-8zM752 868h4v1h-4zM762 868h5v1h-5zM973 868h2v1h-2zM1057 868h1v1h-1zM1108 868h1v1h-1zM1149 868h2v1h-2zM197 874h10v1h-10zM257 874h1v1h-1zM1071 874h1v1h-1zM1161 874h1v1h-1zM12 851h1v1h-1zM330 851h1v1h-1zM684 851h1v1h-1zM699 851h1v1h-1zM861 851h5v1h-5zM933 851h1v1h-1zM947 851h1v1h-1zM952 851h2v1h-2zM959 851h1v1h-1zM1279 851h1v1h-1zM1296 851h4v1h-4zM510 835h1v1h-1zM525 835h1v1h-1zM559 835h3v1h-3zM621 835h1v1h-1zM878 835h2v1h-2zM893 835h1v1h-1zM55 886h1v1h-1zM76 886h3v1h-3zM821 886h1v1h-1zM1002 886h2v1h-2zM1190 886h2v1h-2zM26 866h2v1h-2zM245 866h1v1h-1zM732 866h1v1h-1zM770 866h2v1h-2zM776 866h4v1h-4zM784 866h4v1h-4zM971 866h1v1h-1zM978 866h2v1h-2zM986 866h3v1h-3zM1106 866h1v1h-1zM1147 866h1v1h-1zM1256 866h4v1h-4zM1262 866h1v1h-1zM348 829h1v1h-1zM370 829h1v1h-1zM380 829h2v1h-2zM491 829h2v1h-2zM613 829h1v1h-1zM626 829h1v1h-1zM143 854h3v1h-3zM153 854h2v1h-2zM233 854h2v1h-2zM328 854h1v1h-1zM682 854h1v1h-1zM703 854h2v1h-2zM714 854h1v1h-1zM720 854h2v1h-2zM859 854h1v1h-1zM1277 854h1v1h-1zM1304 854h1v1h-1zM195 876h1v1h-1zM209 876h2v1h-2zM260 876h1v1h-1zM272 876h1v1h-1zM1164 876h1v1h-1zM1168 876h4v1h-4zM1174 876h1v1h-1zM794 864h4v1h-4zM1054 864h1v1h-1zM1094 864h1v1h-1zM1112 864h1v1h-1zM1252 864h1v1h-1zM1264 864h2v1h-2zM1316 864h1v1h-1zM1318 864h2v1h-2zM146 853h2v1h-2zM151 853h2v1h-2zM235 853h2v1h-2zM701 853h2v1h-2zM715 853h2v1h-2zM718 853h2v1h-2zM949 853h1v1h-1zM1302 853h2v1h-2zM250 869h1v1h-1zM746 869h6v1h-6zM800 869h1v1h-1zM1058 869h1v1h-1zM1109 869h1v1h-1zM1151 869h3v1h-3zM6 846h1v1h-1zM333 846h1v1h-1zM693 846h1v1h-1zM912 846h1v1h-1zM941 846h1v1h-1zM1289 846h1v1h-1zM2 849h1v1h-1zM10 849h1v1h-1zM687 849h2v1h-2zM696 849h2v1h-2zM936 849h2v1h-2zM944 849h2v1h-2zM955 849h2v1h-2zM1292 849h1v1h-1zM419 817h2v1h-2zM422 817h1v1h-1zM584 817h4v1h-4zM590 817h2v1h-2zM253 871h1v1h-1zM276 871h1v1h-1zM1068 871h2v1h-2zM1156 871h2v1h-2zM344 832h1v1h-1zM500 832h4v1h-4zM617 832h1v1h-1zM883 832h2v1h-2zM887 832h2v1h-2zM897 832h1v1h-1zM3 848h1v1h-1zM8 848h2v1h-2zM689 848h2v1h-2zM695 848h1v1h-1zM938 848h1v1h-1zM943 848h1v1h-1zM957 848h1v1h-1zM1281 848h1v1h-1zM1291 848h1v1h-1zM813 893h1v1h-1zM1012 893h1v1h-1zM1204 893h3v1h-3zM818 889h1v1h-1zM1006 889h2v1h-2zM1195 889h2v1h-2zM816 890h2v1h-2zM1008 890h1v1h-1zM1040 890h1v1h-1zM1197 890h2v1h-2zM40 882h1v1h-1zM48 882h1v1h-1zM58 882h1v1h-1zM67 882h2v1h-2zM103 882h1v1h-1zM837 882h2v1h-2zM997 882h1v1h-1zM1077 882h5v1h-5zM1181 882h2v1h-2zM335 843h1v1h-1zM517 843h1v1h-1zM914 843h1v1h-1zM1286 843h1v1h-1zM1029 899h2v1h-2zM1218 899h2v1h-2zM1222 899h2v1h-2zM452 808h4v1h-4zM479 821h1v1h-1zM597 821h2v1h-2zM648 821h4v1h-4zM521 839h1v1h-1zM530 839h1v1h-1zM552 839h2v1h-2zM663 839h2v1h-2zM349 828h2v1h-2zM368 828h2v1h-2zM489 828h2v1h-2zM611 828h2v1h-2zM28 865h1v1h-1zM280 865h1v1h-1zM772 865h4v1h-4zM788 865h6v1h-6zM970 865h1v1h-1zM980 865h6v1h-6zM1146 865h1v1h-1zM1253 865h3v1h-3zM1263 865h1v1h-1zM1317 865h1v1h-1zM1023 896h2v1h-2zM1035 896h2v1h-2zM1211 896h2v1h-2zM1227 896h2v1h-2zM389 814h3v1h-3zM408 814h4v1h-4zM414 814h2v1h-2zM7 847h1v1h-1zM691 847h2v1h-2zM694 847h1v1h-1zM939 847h2v1h-2zM942 847h1v1h-1zM1290 847h1v1h-1zM256 873h1v1h-1zM274 873h1v1h-1zM1061 873h3v1h-3zM1160 873h1v1h-1zM478 820h1v1h-1zM595 820h2v1h-2zM652 820h1v1h-1zM44 879h1v1h-1zM46 879h1v1h-1zM61 879h2v1h-2zM192 879h1v1h-1zM268 879h2v1h-2zM827 879h1v1h-1zM832 879h2v1h-2zM844 879h1v1h-1zM1075 879h1v1h-1zM1178 879h1v1h-1zM176 860h4v1h-4zM289 860h1v1h-1zM296 860h1v1h-1zM855 860h1v1h-1zM966 860h1v1h-1zM1101 860h1v1h-1zM1122 860h2v1h-2zM1130 860h2v1h-2zM1142 860h1v1h-1zM1249 860h1v1h-1zM1269 860h1v1h-1zM1311 860h1v1h-1zM1325 860h1v1h-1zM483 824h1v1h-1zM603 824h2v1h-2zM634 824h6v1h-6zM396 816h6v1h-6zM418 816h1v1h-1zM423 816h1v1h-1zM588 816h2v1h-2zM468 804h2v1h-2zM456 807h4v1h-4zM412 813h2v1h-2zM337 840h1v1h-1zM514 840h1v1h-1zM520 840h1v1h-1zM531 840h1v1h-1zM550 840h2v1h-2zM665 840h2v1h-2zM1013 894h5v1h-5zM1207 894h2v1h-2zM1027 898h2v1h-2zM1031 898h2v1h-2zM1215 898h3v1h-3zM1224 898h2v1h-2zM511 836h1v1h-1zM524 836h1v1h-1zM526 836h1v1h-1zM557 836h2v1h-2zM877 836h1v1h-1zM426 812h1v1h-1zM427 811h1v1h-1zM436 811h6v1h-6zM464 805h4v1h-4zM1220 900h2v1h-2zM460 806h4v1h-4z" fill="#1e90ff"/>
</g>
<text x="1435.5" y="552.5" font-size="30" textLength="159" lengthAdjust="spacing" fill="#003000" style="font-family:'Liberation Sans','Noto Sans CJK SC',sans-serif">多空转折点</text>
<text x="1434" y="551" font-size="30" textLength="159" lengthAdjust="spacing" fill="#00ff00" stroke="#00ff00" stroke-width="0.6" style="font-family:'Liberation Sans','Noto Sans CJK SC',sans-serif">多空转折点</text></svg>
<svg width="1663" height="31" viewBox="0 0 1663 31" style="position:absolute;left:0;top:0"><rect x="0" y="0" width="1663" height="29" fill="#f0f0f0"/><rect x="0" y="0" width="1663" height="1" fill="#a0a0a0"/><rect x="0" y="1" width="1663" height="1" fill="#fff"/><rect x="0" y="27" width="1663" height="1" fill="#c4c4c4"/><rect x="0" y="28" width="1663" height="1" fill="#6a6a6a"/><rect x="0" y="29" width="1663" height="2" fill="#fff"/><rect x="0" y="17" width="3" height="3" fill="#18a018"/>
<text x="6" y="18.5" font-size="11.7" textLength="35" lengthAdjust="spacing" fill="#000" style="font-family:'Liberation Sans','Noto Sans CJK SC',sans-serif">新订单</text>
<polygon points="54,17 60,8.5 69.5,15 62.5,22.5" fill="#e4b422" stroke="#a86c10" stroke-width="1"/><polygon points="54.5,17.5 62.5,23 69.5,16 69,14.5 62.3,20.5 55,15.8" fill="#b87a14"/><polygon points="57,14 60.3,9.8 67,14.5 63.5,18.5" fill="#f4d860" opacity=".8"/>
<rect x="84" y="7" width="11" height="10" rx="1" fill="#2a8cf0" stroke="#1a60c0" stroke-width="1"/><rect x="87" y="9" width="6" height="2" fill="#cfe6ff"/><rect x="87" y="12.5" width="6" height="1.5" fill="#9ccaff"/>
<path d="M84.5 22.5h11a3 3 0 0 0 .6-5.9 3.2 3.2 0 0 0-5.6-1.3 2.6 2.6 0 0 0-4 2 2.7 2.7 0 0 0-2 5.2z" fill="#f4f8ff" stroke="#4a6ea8" stroke-width="1"/>
<g fill="none" stroke-width="1.3"><circle cx="118" cy="15" r="7.3" stroke="#9fb8e8"/><circle cx="118" cy="15" r="4.6" stroke="#4f7be0"/><path d="M118 22.3a7.3 7.3 0 0 0 6.5-10.5" stroke="#52a852" stroke-width="1.6"/><path d="M118 19.6a4.6 4.6 0 0 0 4.2-6.5" stroke="#7cc07c"/></g><circle cx="118" cy="14.5" r="1.8" fill="#2050d0"/><rect x="117.5" y="15" width="1.4" height="8" fill="#20a020"/>
<path d="M139 15l8 8 6-7-3-3z" fill="#f2d648" stroke="#c8a020" stroke-width=".8"/><ellipse cx="145" cy="12" rx="8" ry="3" fill="#58a8e0" stroke="#2878b8" stroke-width=".8"/><ellipse cx="145" cy="10" rx="4" ry="3" fill="#78c0f0" stroke="#2878b8" stroke-width=".8"/><circle cx="149.8" cy="18.8" r="4.2" fill="#e02818"/><rect x="148" y="17" width="3.6" height="3.6" fill="#fff"/>
<text x="160" y="18.5" font-size="11.3" textLength="45" lengthAdjust="spacing" fill="#000" style="font-family:'Liberation Sans','Noto Sans CJK SC',sans-serif">自动交易</text>
<rect x="213" y="3" width="1" height="23" fill="#a0a0a0" shape-rendering="crispEdges"/>
<rect x="217" y="5" width="3" height="1" fill="#a8a8a8" shape-rendering="crispEdges"/>
<rect x="217" y="7" width="3" height="1" fill="#a8a8a8" shape-rendering="crispEdges"/>
<rect x="217" y="9" width="3" height="1" fill="#a8a8a8" shape-rendering="crispEdges"/>
<rect x="217" y="11" width="3" height="1" fill="#a8a8a8" shape-rendering="crispEdges"/>
<rect x="217" y="13" width="3" height="1" fill="#a8a8a8" shape-rendering="crispEdges"/>
<rect x="217" y="15" width="3" height="1" fill="#a8a8a8" shape-rendering="crispEdges"/>
<rect x="217" y="17" width="3" height="1" fill="#a8a8a8" shape-rendering="crispEdges"/>
<rect x="217" y="19" width="3" height="1" fill="#a8a8a8" shape-rendering="crispEdges"/>
<rect x="217" y="21" width="3" height="1" fill="#a8a8a8" shape-rendering="crispEdges"/>
<rect x="217" y="23" width="3" height="1" fill="#a8a8a8" shape-rendering="crispEdges"/>
<g stroke="#505050" stroke-width="1" fill="none" shape-rendering="crispEdges"><line x1="232.5" y1="10" x2="232.5" y2="23"/><line x1="229" y1="20.5" x2="243" y2="20.5"/></g>
<polygon points="232.5,8.5 230.5,11.5 234.5,11.5" fill="#505050"/>
<polygon points="244,20.5 241,18.5 241,22.5" fill="#505050"/>
<path d="M237.5 20v-8h2.5M237.5 17h-2.5" stroke="#18a018" stroke-width="1.4" fill="none" shape-rendering="crispEdges"/>
<g shape-rendering="crispEdges"><rect x="251" y="3" width="24" height="23" fill="#f9f9f9"/><rect x="251" y="3" width="24" height="1" fill="#a0a0a0"/><rect x="251" y="3" width="1" height="23" fill="#a0a0a0"/><rect x="274" y="4" width="1" height="22" fill="#fff"/><rect x="252" y="25" width="23" height="1" fill="#fff"/></g>
<g stroke="#505050" stroke-width="1" fill="none" shape-rendering="crispEdges"><line x1="260.5" y1="10" x2="260.5" y2="23"/><line x1="257" y1="20.5" x2="271" y2="20.5"/></g>
<polygon points="260.5,8.5 258.5,11.5 262.5,11.5" fill="#505050"/>
<polygon points="272,20.5 269,18.5 269,22.5" fill="#505050"/>
<rect x="265" y="8" width="1" height="12" fill="#107010" shape-rendering="crispEdges"/><rect x="263.5" y="10.5" width="4" height="7" fill="#20d020" stroke="#107010" stroke-width="1" shape-rendering="crispEdges"/>
<g stroke="#505050" stroke-width="1" fill="none" shape-rendering="crispEdges"><line x1="288.5" y1="10" x2="288.5" y2="23"/><line x1="285" y1="20.5" x2="299" y2="20.5"/></g>
<polygon points="288.5,8.5 286.5,11.5 290.5,11.5" fill="#505050"/>
<polygon points="300,20.5 297,18.5 297,22.5" fill="#505050"/>
<path d="M286 18c3-5 5-7 7-7s4 3 6 5" stroke="#2a9a2a" stroke-width="1.4" fill="none"/>
<rect x="308" y="3" width="1" height="23" fill="#a0a0a0" shape-rendering="crispEdges"/>
<line x1="326.0" y1="18.5" x2="330.5" y2="23" stroke="#c8a020" stroke-width="3.2" stroke-linecap="round"/>
<circle cx="322.5" cy="13" r="5.3" fill="#cfe8fb" stroke="#2f78c8" stroke-width="1.4"/>
<rect x="319.5" y="12.2" width="6" height="1.6" fill="#2f78c8"/>
<rect x="321.7" y="10" width="1.6" height="6" fill="#2f78c8"/>
<line x1="354.0" y1="18.5" x2="358.5" y2="23" stroke="#c8a020" stroke-width="3.2" stroke-linecap="round"/>
<circle cx="350.5" cy="13" r="5.3" fill="#cfe8fb" stroke="#2f78c8" stroke-width="1.4"/>
<rect x="347.5" y="12.2" width="6" height="1.6" fill="#2f78c8"/>
<rect x="373" y="7" width="8" height="8" fill="#3a9a1c"/><rect x="374.5" y="10.2" width="5" height="3" fill="#fff" opacity=".9"/>
<rect x="381.5" y="7" width="8" height="8" fill="#2050c8"/><rect x="383.0" y="10.2" width="5" height="3" fill="#fff" opacity=".9"/>
<rect x="373" y="15.5" width="8" height="8" fill="#2050c8"/><rect x="374.5" y="18.7" width="5" height="3" fill="#fff" opacity=".9"/>
<rect x="381.5" y="15.5" width="8" height="8" fill="#3a9a1c"/><rect x="383.0" y="18.7" width="5" height="3" fill="#fff" opacity=".9"/>
<rect x="398" y="3" width="1" height="23" fill="#a0a0a0" shape-rendering="crispEdges"/>
<g shape-rendering="crispEdges"><rect x="402" y="3" width="25" height="23" fill="#f9f9f9"/><rect x="402" y="3" width="25" height="1" fill="#a0a0a0"/><rect x="402" y="3" width="1" height="23" fill="#a0a0a0"/><rect x="426" y="4" width="1" height="22" fill="#fff"/><rect x="403" y="25" width="24" height="1" fill="#fff"/></g>
<g stroke="#505050" stroke-width="1" fill="none" shape-rendering="crispEdges"><line x1="412.5" y1="10" x2="412.5" y2="23"/><line x1="409" y1="20.5" x2="423" y2="20.5"/></g>
<polygon points="412.5,8.5 410.5,11.5 414.5,11.5" fill="#505050"/>
<polygon points="424,20.5 421,18.5 421,22.5" fill="#505050"/>
<polygon points="416,11 416,18 420.5,14.5" fill="#30c030" stroke="#18901a" stroke-width=".8"/>
<g shape-rendering="crispEdges"><rect x="431" y="3" width="25" height="23" fill="#f9f9f9"/><rect x="431" y="3" width="25" height="1" fill="#a0a0a0"/><rect x="431" y="3" width="1" height="23" fill="#a0a0a0"/><rect x="455" y="4" width="1" height="22" fill="#fff"/><rect x="432" y="25" width="24" height="1" fill="#fff"/></g>
<g stroke="#505050" stroke-width="1" fill="none" shape-rendering="crispEdges"><line x1="440.5" y1="10" x2="440.5" y2="23"/><line x1="437" y1="20.5" x2="451" y2="20.5"/></g>
<polygon points="440.5,8.5 438.5,11.5 442.5,11.5" fill="#505050"/>
<polygon points="452,20.5 449,18.5 449,22.5" fill="#505050"/>
<rect x="445" y="9" width="1" height="10" fill="#2060c0" shape-rendering="crispEdges"/><path d="M451 14.5h-4m2-2l-2.4 2 2.4 2" stroke="#e04010" stroke-width="1.2" fill="none"/>
<rect x="460" y="3" width="1" height="23" fill="#a0a0a0" shape-rendering="crispEdges"/>
<path d="M471.5 8.5h7l3 3v8.5h-10z" fill="#f4f4f4" stroke="#909090" stroke-width="1"/><path d="M474 12c-1.5 0-1.5 5 0 5" stroke="#707070" fill="none"/>
<path d="M481 13.5h3.6v3.8h3.8v3.6h-3.8v3.8h-3.6v-3.8h-3.8v-3.6h3.8z" fill="#22c022" stroke="#108010" stroke-width=".8"/>
<polygon points="492,14 498,14 495.0,17" fill="#000"/>
<circle cx="516" cy="15" r="7" fill="#fff" stroke="#1e62c8" stroke-width="2.2"/><path d="M516 11v4.5h3" stroke="#404040" stroke-width="1.2" fill="none"/>
<polygon points="531,14 537,14 534.0,17" fill="#000"/>
<rect x="547.5" y="8.5" width="15" height="13" fill="#fff" stroke="#3c78d0" stroke-width="1"/><rect x="547" y="8" width="16" height="2.5" fill="#3c78d0"/><path d="M549 14l3-1 2 .8 3-1.5 3 1 2-1" stroke="#b02010" stroke-width="1.2" fill="none"/><rect x="548" y="16" width="14" height="1" fill="#3c78d0" opacity=".6"/><path d="M549 19.5l3-1 2 1 3-1.8 2 1.6 2-1" stroke="#18a028" stroke-width="1.2" fill="none"/>
<polygon points="570,14 576,14 573.0,17" fill="#000"/>
<rect x="581" y="3" width="1" height="23" fill="#a0a0a0" shape-rendering="crispEdges"/>
<rect x="585" y="5" width="3" height="1" fill="#a8a8a8" shape-rendering="crispEdges"/>
<rect x="585" y="7" width="3" height="1" fill="#a8a8a8" shape-rendering="crispEdges"/>
<rect x="585" y="9" width="3" height="1" fill="#a8a8a8" shape-rendering="crispEdges"/>
<rect x="585" y="11" width="3" height="1" fill="#a8a8a8" shape-rendering="crispEdges"/>
<rect x="585" y="13" width="3" height="1" fill="#a8a8a8" shape-rendering="crispEdges"/>
<rect x="585" y="15" width="3" height="1" fill="#a8a8a8" shape-rendering="crispEdges"/>
<rect x="585" y="17" width="3" height="1" fill="#a8a8a8" shape-rendering="crispEdges"/>
<rect x="585" y="19" width="3" height="1" fill="#a8a8a8" shape-rendering="crispEdges"/>
<rect x="585" y="21" width="3" height="1" fill="#a8a8a8" shape-rendering="crispEdges"/>
<rect x="585" y="23" width="3" height="1" fill="#a8a8a8" shape-rendering="crispEdges"/>
<g shape-rendering="crispEdges"><rect x="591" y="3" width="25" height="23" fill="#f9f9f9"/><rect x="591" y="3" width="25" height="1" fill="#a0a0a0"/><rect x="591" y="3" width="1" height="23" fill="#a0a0a0"/><rect x="615" y="4" width="1" height="22" fill="#fff"/><rect x="592" y="25" width="24" height="1" fill="#fff"/></g>
<path d="M599 8v12l3-2.8 2.3 5 2-1-2.3-4.8h4.2z" fill="#303030"/>
<g stroke="#404040" stroke-width="1" shape-rendering="crispEdges"><line x1="631.5" y1="8" x2="631.5" y2="23"/><line x1="624" y1="15.5" x2="639" y2="15.5"/></g><rect x="630" y="14" width="3" height="3" fill="#f0f0f0"/>
<rect x="648" y="3" width="1" height="23" fill="#a0a0a0" shape-rendering="crispEdges"/>
<rect x="665" y="9" width="1" height="13" fill="#404040" shape-rendering="crispEdges"/>
<rect x="688" y="15" width="13" height="1" fill="#404040" shape-rendering="crispEdges"/>
<line x1="716" y1="22" x2="728.5" y2="9.5" stroke="#404040" stroke-width="1.1"/>
<g stroke="#505050" stroke-width="1" fill="none"><path d="M742 20l12-9M744 23l12-9M746 15l-1.5 7M750 12l-1.5 7M754 9l-1.5 7"/></g><text x="753" y="25" font-size="6.5" font-weight="bold" fill="#303030" font-family="Liberation Sans">E</text>
<g stroke="#505050" stroke-width="1" stroke-dasharray="1,1" shape-rendering="crispEdges"><line x1="771" y1="8.5" x2="784" y2="8.5"/><line x1="771" y1="12.5" x2="784" y2="12.5"/><line x1="771" y1="16.5" x2="784" y2="16.5"/><line x1="771" y1="19.5" x2="780" y2="19.5"/></g><text x="780.5" y="25" font-size="6.5" font-weight="bold" fill="#303030" font-family="Liberation Sans">F</text>
<text x="800.5" y="20" font-size="12.5" font-weight="bold" fill="#505050" font-family="Liberation Sans">A</text>
<rect x="827.5" y="8.5" width="13" height="13" fill="none" stroke="#505050" stroke-width="1" stroke-dasharray="1,1" shape-rendering="crispEdges"/><text x="830" y="19.5" font-size="11" font-weight="bold" fill="#505050" font-family="Liberation Sans">T</text>
<path d="M856 11.5l3-3 3 3-3 3zM863.5 17.5l3-3 3 3-3 3z" fill="#404040"/><path d="M858 15l4 4 3-2.5" stroke="#404040" stroke-width="1.3" fill="none"/>
<polygon points="876,14 882,14 879.0,17" fill="#000"/>
<rect x="887" y="3" width="1" height="23" fill="#a0a0a0" shape-rendering="crispEdges"/>
<rect x="891" y="5" width="3" height="1" fill="#a8a8a8" shape-rendering="crispEdges"/>
<rect x="891" y="7" width="3" height="1" fill="#a8a8a8" shape-rendering="crispEdges"/>
<rect x="891" y="9" width="3" height="1" fill="#a8a8a8" shape-rendering="crispEdges"/>
<rect x="891" y="11" width="3" height="1" fill="#a8a8a8" shape-rendering="crispEdges"/>
<rect x="891" y="13" width="3" height="1" fill="#a8a8a8" shape-rendering="crispEdges"/>
<rect x="891" y="15" width="3" height="1" fill="#a8a8a8" shape-rendering="crispEdges"/>
<rect x="891" y="17" width="3" height="1" fill="#a8a8a8" shape-rendering="crispEdges"/>
<rect x="891" y="19" width="3" height="1" fill="#a8a8a8" shape-rendering="crispEdges"/>
<rect x="891" y="21" width="3" height="1" fill="#a8a8a8" shape-rendering="crispEdges"/>
<rect x="891" y="23" width="3" height="1" fill="#a8a8a8" shape-rendering="crispEdges"/>
<g shape-rendering="crispEdges"><rect x="1037" y="3" width="25" height="23" fill="#f9f9f9"/><rect x="1037" y="3" width="25" height="1" fill="#a0a0a0"/><rect x="1037" y="3" width="1" height="23" fill="#a0a0a0"/><rect x="1061" y="4" width="1" height="22" fill="#fff"/><rect x="1038" y="25" width="24" height="1" fill="#fff"/></g>
<rect x="1148" y="3" width="1" height="23" fill="#a0a0a0" shape-rendering="crispEdges"/>
<line x1="1615.5" y1="15.5" x2="1611.5" y2="19.5" stroke="#2a62d8" stroke-width="2.6" stroke-linecap="round"/><circle cx="1618.7" cy="12.3" r="4" fill="#f8f8ff" stroke="#2a62d8" stroke-width="1.4"/>
<ellipse cx="1651.5" cy="12" rx="6.4" ry="4.8" fill="#f6f6fa" stroke="#9a9a9a" stroke-width="1"/><path d="M1653 16.5l1.5 2.2.4-2.6" fill="#888"/><ellipse cx="1642.3" cy="16.3" rx="5" ry="3.8" fill="#f6f6fa" stroke="#9a9a9a" stroke-width="1"/><path d="M1639.5 19.5l.2 2.4 2-2" fill="#888"/>
<text x="909" y="18.5" font-size="9.5" fill="#404040" text-anchor="middle" font-family="Liberation Sans">M1</text>
<text x="937" y="18.5" font-size="9.5" fill="#404040" text-anchor="middle" font-family="Liberation Sans">M5</text>
<text x="965.5" y="18.5" font-size="9.5" fill="#404040" text-anchor="middle" font-family="Liberation Sans">M15</text>
<text x="993.5" y="18.5" font-size="9.5" fill="#404040" text-anchor="middle" font-family="Liberation Sans">M30</text>
<text x="1021.5" y="18.5" font-size="9.5" fill="#404040" text-anchor="middle" font-family="Liberation Sans">H1</text>
<text x="1049" y="18.5" font-size="9.5" fill="#404040" text-anchor="middle" font-family="Liberation Sans">H4</text>
<text x="1077.5" y="18.5" font-size="9.5" fill="#404040" text-anchor="middle" font-family="Liberation Sans">D1</text>
<text x="1106.5" y="18.5" font-size="9.5" fill="#404040" text-anchor="middle" font-family="Liberation Sans">W1</text>
<text x="1133" y="18.5" font-size="9.5" fill="#404040" text-anchor="middle" font-family="Liberation Sans">MN</text></svg>
<div class="t ax" style="left:1622px;top:49px;">24035.5</div>
<div class="t ax" style="left:1622px;top:82px;">23808.0</div>
<div class="t ax" style="left:1622px;top:115px;">23580.5</div>
<div class="t ax" style="left:1622px;top:148px;">23353.0</div>
<div class="t ax" style="left:1622px;top:181px;">23125.5</div>
<div class="t ax" style="left:1622px;top:214px;">22898.0</div>
<div class="t ax" style="left:1622px;top:247px;">22664.0</div>
<div class="t ax" style="left:1622px;top:280px;">22436.5</div>
<div class="t ax" style="left:1622px;top:313px;">22209.0</div>
<div class="t ax" style="left:1622px;top:346px;">21981.5</div>
<div class="t ax" style="left:1622px;top:379px;">21754.0</div>
<div class="t ax" style="left:1622px;top:412px;">21526.5</div>
<div class="t ax" style="left:1622px;top:445px;">21292.5</div>
<div class="t ax" style="left:1622px;top:478px;">21065.0</div>
<div class="t ax" style="left:1622px;top:511px;">20837.5</div>
<div class="t ax" style="left:1622px;top:544px;">20610.0</div>
<div class="t ax" style="left:1622px;top:577px;">20382.5</div>
<div class="pl" style="top:411px;background:#ff0000"><span>21519.2</span></div>
<div class="pl" style="top:451px;background:#ff0000"><span>21240.0</span></div>
<div class="pl" style="top:474px;background:#32cd32"><span>21082.1</span></div>
<div class="pl" style="top:489px;background:#000"><span>20980.0</span></div>
<div class="pl" style="top:517px;background:#0000ff"><span>20785.4</span></div>
<div class="pl" style="top:544px;background:#0000ff"><span>20594.0</span></div>
<div class="t ax" style="left:1620px;top:589px;">246.64</div>
<div class="t ax" style="left:1620px;top:635px;">0.00</div>
<div class="t ax" style="left:1618px;top:746px;">-558.86</div>
<div class="t ax" style="left:1620px;top:761px;">100</div>
<div class="t ax" style="left:1620px;top:790px;">80</div>
<div class="t ax" style="left:1620px;top:841px;">50</div>
<div class="t ax" style="left:1620px;top:902px;">15</div>
<div class="t ax" style="left:1620px;top:921px;">0</div>
<div class="t tm" style="left:-3px;top:937px;">24 Jan 2020</div>
<div class="t tm" style="left:61px;top:937px;">27 Jan 10:55</div>
<div class="t tm" style="left:125px;top:937px;">28 Jan 18:55</div>
<div class="t tm" style="left:189px;top:937px;">30 Jan 00:00</div>
<div class="t tm" style="left:253px;top:937px;">31 Jan 10:55</div>
<div class="t tm" style="left:317px;top:937px;">3 Feb 18:55</div>
<div class="t tm" style="left:381px;top:937px;">5 Feb 00:00</div>
<div class="t tm" style="left:445px;top:937px;">6 Feb 10:55</div>
<div class="t tm" style="left:509px;top:937px;">7 Feb 18:55</div>
<div class="t tm" style="left:573px;top:937px;">11 Feb 00:00</div>
<div class="t tm" style="left:637px;top:937px;">12 Feb 10:55</div>
<div class="t tm" style="left:701px;top:937px;">13 Feb 18:55</div>
<div class="t tm" style="left:765px;top:937px;">17 Feb 00:00</div>
<div class="t tm" style="left:829px;top:937px;">18 Feb 10:55</div>
<div class="t tm" style="left:893px;top:937px;">19 Feb 18:55</div>
<div class="t tm" style="left:957px;top:937px;">21 Feb 00:00</div>
<div class="t tm" style="left:1021px;top:937px;">24 Feb 10:55</div>
<div class="t tm" style="left:1085px;top:937px;">25 Feb 18:55</div>
<div class="t tm" style="left:1149px;top:937px;">27 Feb 00:00</div>
<div class="t tm" style="left:1213px;top:937px;">28 Feb 10:55</div>
<div class="t tm" style="left:1277px;top:937px;">2 Mar 18:55</div>
<div class="t ti" style="left:12px;top:35px;">JPN225-,H4&nbsp; 20820.0 21040.0 20667.5 20980.0</div>
<div class="t mc" style="left:2px;top:591px;">MACD(12,26,9) -242.40 -294.87</div>
<div class="t ax" style="left:2px;top:763px;">RSI(14) 42.0631</div>
<div class="biglab">21082.1</div>
<svg class="tp" style="left:0;top:37px" width="8" height="6" viewBox="0 0 8 6"><polygon points="0,5 3.5,0.8 7,5" fill="#000"/></svg>
<div class="tp" style="left:0;top:49px;width:221px;height:68px;background:#fff"></div>
<div class="tp" style="left:0;top:51px;width:220px;height:64px;">
  <div class="tp" style="left:0;top:0;width:52px;height:25px;background:linear-gradient(#f85050,#e43434);border:1px solid #c81414;border-bottom:none;box-sizing:border-box"></div>
  <div class="tp" style="left:167px;top:0;width:52px;height:25px;background:linear-gradient(#f85050,#e43434);border:1px solid #c81414;border-bottom:none;box-sizing:border-box"></div>
  <div class="tp red" style="left:0;top:24px;width:109px;height:40px;border:1px solid #b00808;border-top:none;box-sizing:border-box"></div>
  <div class="tp red" style="left:111px;top:24px;width:108px;height:40px;border:1px solid #b00808;border-top:none;box-sizing:border-box"></div>
  <div class="tp" style="left:4px;top:23px;width:44px;height:1px;background:#a80000"></div><div class="tp" style="left:4px;top:24px;width:44px;height:1px;background:#f08a8a"></div>
  <div class="tp" style="left:171px;top:23px;width:44px;height:1px;background:#a80000"></div><div class="tp" style="left:171px;top:24px;width:44px;height:1px;background:#f08a8a"></div>
  <div class="tp" style="left:52px;top:0;width:115px;height:24px;background:#f4f4f6"></div>
  <div class="tp" style="left:54px;top:0;width:111px;height:22px;background:#fff;border:1px solid #a4a8b4;box-sizing:border-box"></div>
  <div class="tp" style="left:56px;top:2px;width:19px;height:18px;background:linear-gradient(#f4f4f4,#e2e2e2 50%,#cfcfcf 51%,#dcdcdc);border-right:1px solid #b0b4c0;box-sizing:border-box"></div>
  <div class="tp" style="left:144px;top:2px;width:19px;height:18px;background:linear-gradient(#f4f4f4,#e2e2e2 50%,#cfcfcf 51%,#dcdcdc);border-left:1px solid #b0b4c0;box-sizing:border-box"></div>
  <svg class="tp" style="left:61px;top:8px" width="8" height="6" viewBox="0 0 8 6"><polygon points="1,1 7,1 4,4.2" fill="#4a58c0"/></svg>
  <svg class="tp" style="left:149px;top:8px" width="8" height="6" viewBox="0 0 8 6"><polygon points="1,4.4 7,4.4 4,1.2" fill="#4a58c0"/></svg>
  <div class="tp" style="left:100px;top:4px;width:40px;text-align:right;font-size:12px;line-height:14px;color:#101020">1.00</div>
  <div class="tp" style="left:0;top:5px;width:51px;text-align:center;font-size:11px;line-height:13px;color:#fff;letter-spacing:-0.3px">SELL</div>
  <div class="tp" style="left:167px;top:5px;width:51px;text-align:center;font-size:11px;line-height:13px;color:#fff;letter-spacing:-0.3px">BUY</div>
  <div class="tp" style="left:16px;top:43.5px;font-size:12.5px;line-height:14px;font-weight:bold;color:#fff">20978</div>
  <div class="tp" style="left:126px;top:43.5px;font-size:12.5px;line-height:14px;font-weight:bold;color:#fff">21001</div>
  <div class="tp" style="left:54px;top:25px;font-size:34.5px;line-height:36px;color:#fff;transform-origin:0 0;transform:scaleX(.87)">.5</div>
  <div class="tp" style="left:165.5px;top:25px;font-size:34.5px;line-height:36px;color:#fff;transform-origin:0 0;transform:scaleX(.87)">.5</div>
</div>

</body></html>
